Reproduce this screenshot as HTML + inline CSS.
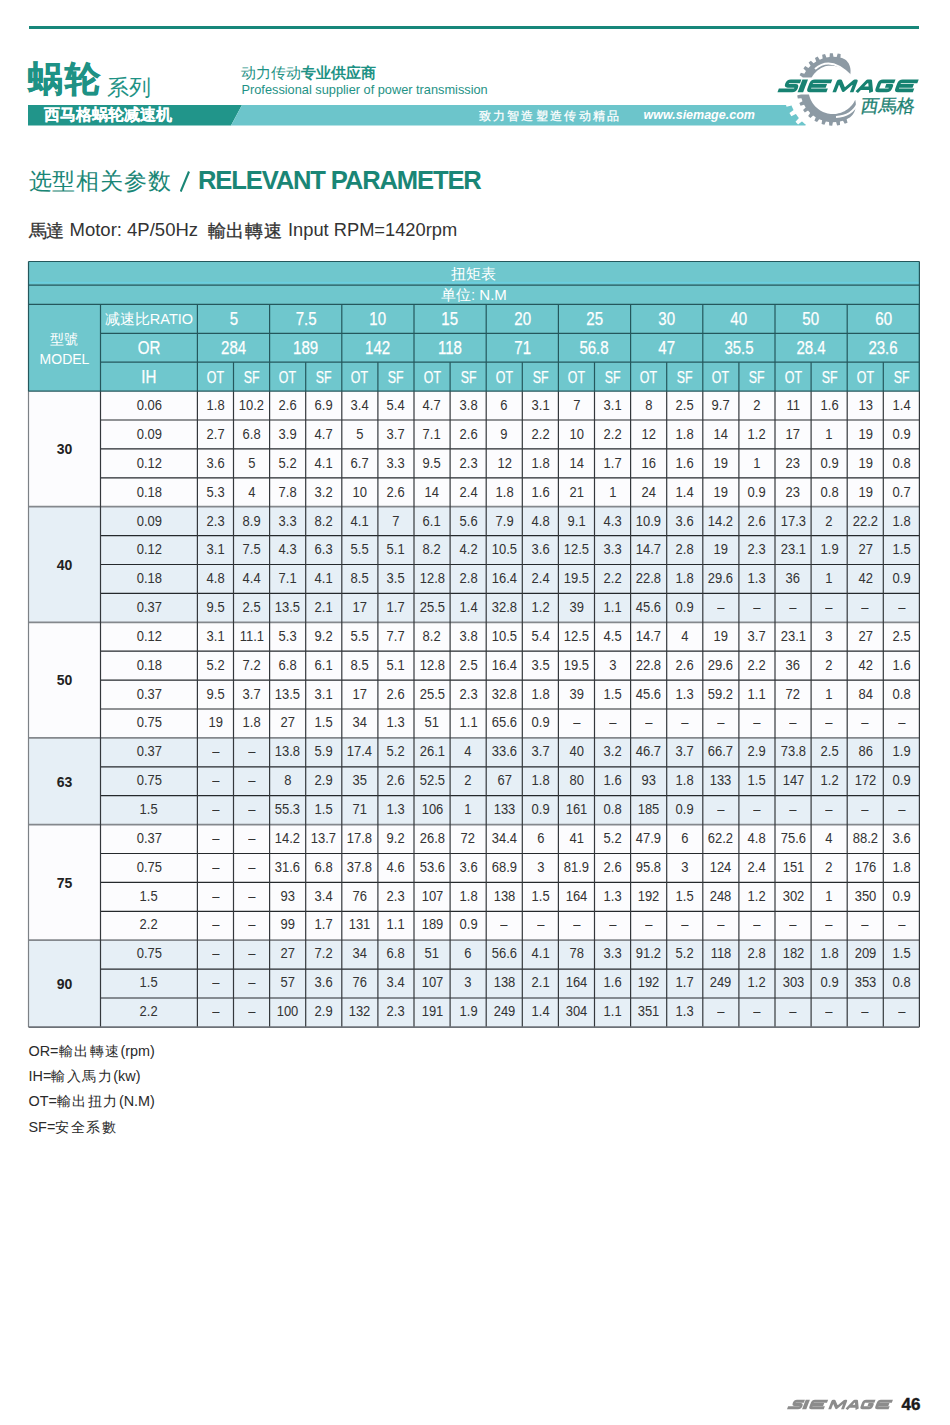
<!DOCTYPE html>
<html><head><meta charset="utf-8">
<style>
html,body{margin:0;padding:0;background:#fff;}
body{width:950px;height:1425px;position:relative;overflow:hidden;font-family:"Liberation Sans",sans-serif;}
.a{position:absolute;white-space:nowrap;}
.c{position:absolute;text-align:center;white-space:nowrap;}
.h1{color:#fff;font-size:15px;}
.hm{color:#fff;font-size:14px;line-height:20px;display:flex;align-items:center;justify-content:center;flex-direction:column;}
.hr{color:#fff;font-size:14.5px;}
.hn{color:#fff;font-size:17.5px;-webkit-text-stroke:0.25px #fff;}
.hs{color:#fff;font-size:16.5px;-webkit-text-stroke:0.25px #fff;}
.d{color:#333333;font-size:13.8px;}
.mb{color:#222;font-size:14px;font-weight:bold;}
</style></head><body>
<div class="a" style="left:28.5px;top:26.3px;width:890px;height:2.5px;background:#17877a;"></div><div class="a" style="left:28.00px;top:61.59px;font-size:34.5px;line-height:34.5px;font-weight:bold;color:#1e9285;letter-spacing:2px;-webkit-text-stroke:0.7px #1e9285">蜗轮</div><div class="a" style="left:107.00px;top:76.87px;font-size:22px;line-height:22px;color:#1e9285">系列</div><div class="a" style="left:241.00px;top:65.72px;font-size:14.5px;line-height:14.5px;color:#1e9285">动力传动<b>专业供应商</b></div><div class="a" style="left:241.50px;top:84.19px;font-size:12.77px;line-height:12.77px;color:#1e9285">Professional supplier of power transmission</div><svg class="a" style="left:0;top:0" width="950" height="140">
<polygon points="28,105 242,105 231,125.5 28,125.5" fill="#21958a"/>
<polygon points="242,105 830,105 830,125.5 231,125.5" fill="#6cc5cb"/>
<polygon points="876.46,87.52 882.48,88.06 882.45,91.81 876.41,92.23 875.86,96.91 881.63,98.73 880.79,102.38 874.81,101.50 873.27,105.95 878.51,108.96 876.91,112.36 871.25,110.21 868.79,114.22 873.26,118.29 870.97,121.26 865.91,117.95 862.64,121.34 866.13,126.28 863.25,128.68 859.02,124.36 855.10,126.97 857.45,132.54 854.12,134.27 850.92,129.14 846.53,130.84 847.63,136.79 844.00,137.76 841.98,132.06 837.33,132.78 837.12,138.83 833.37,139.00 832.62,133.00 827.92,132.70 826.42,138.56 822.72,137.92 823.28,131.90 818.75,130.60 816.03,136.00 812.55,134.58 814.39,128.82 810.25,126.58 806.43,131.26 803.34,129.13 806.37,123.90 802.81,120.82 798.07,124.58 795.52,121.83 799.60,117.37 796.78,113.60 791.35,116.25 789.44,113.01 794.39,109.54 792.45,105.25 786.57,106.67 785.41,103.10 790.99,100.77 790.01,96.16 783.97,96.29 783.59,92.55 789.54,91.48 789.59,86.77 783.65,85.59 784.09,81.86 790.14,82.09 791.19,77.50 785.65,75.07 786.88,71.52 792.73,73.05 794.75,68.79 789.86,65.23 791.82,62.03 797.21,64.78 800.09,61.05 796.09,56.52 798.69,53.82 803.36,57.66 806.98,54.64 804.04,49.36 807.16,47.28 810.90,52.03 815.08,49.86 813.34,44.07 816.84,42.71 819.47,48.16 824.02,46.94 823.57,40.91 827.28,40.33 828.67,46.22 833.38,46.00 834.24,40.02 837.98,40.25 838.08,46.30 842.72,47.10 844.85,41.44 848.45,42.47 847.25,48.40 851.61,50.18 854.90,45.11 858.20,46.89 855.75,52.42 859.63,55.10 863.93,50.85 866.77,53.31 863.19,58.18 866.40,61.63 871.52,58.41 873.76,61.41 869.22,65.40 871.61,69.46 877.30,67.41 878.85,70.83 873.55,73.75 875.01,78.23 881.01,77.45 881.79,81.12 875.99,82.84" fill="#fff"/>
<circle cx="833" cy="89.5" r="44.5" fill="#fff"/>
<polygon points="855.20,99.85 855.56,101.54 855.78,103.28 855.85,105.05 855.74,106.84 855.45,108.62 854.98,110.36 854.31,112.02 853.45,113.59 852.42,115.03 851.21,116.33 849.85,117.44 848.35,118.37 846.64,119.22 847.53,122.77 844.74,123.85 843.01,120.63 839.93,121.46 840.04,125.11 837.08,125.57 836.08,122.05 832.90,122.20 832.22,125.79 829.23,125.60 829.01,121.96 825.87,121.41 824.43,124.77 821.56,123.95 822.13,120.34 819.18,119.13 817.05,122.11 814.42,120.69 815.75,117.28 813.13,115.47 810.41,117.92 808.15,115.96 810.18,112.92 808.01,110.59 804.83,112.40 803.04,110.00 805.68,107.47 804.06,104.72 800.57,105.81 799.34,103.08 802.46,101.18 801.46,98.15 797.82,98.45 797.20,95.53 800.66,94.34 800.34,91.17 796.72,90.68 796.74,87.69 800.38,87.27 800.75,84.11 797.31,82.85 797.98,79.94 801.62,80.31 802.66,77.30 799.58,75.34 800.85,72.64 804.33,73.78 805.99,71.06 803.40,68.48 805.23,66.12 808.38,67.98 810.59,65.69 808.61,62.61 810.91,60.70 813.58,63.19 816.23,61.43 814.96,58.00 817.61,56.62 819.69,59.63 822.66,58.48 822.16,54.86 825.04,54.08 826.42,57.47 829.57,56.98 829.86,53.34 832.84,53.20 833.46,56.80 836.64,57.00 837.70,53.51 840.65,54.01 840.48,57.67 842.01,58.07 843.59,58.66 845.07,59.51 846.40,60.59 847.58,61.89 848.58,63.36 849.38,64.99 849.97,66.73 850.36,68.56 850.55,70.44 850.53,72.32 850.34,74.18 849.98,75.99 849.98,75.99 849.18,74.82 848.30,73.70 847.34,72.64 846.31,71.63 845.20,70.69 844.03,69.81 842.80,69.01 841.51,68.28 840.16,67.64 838.77,67.08 837.34,66.61 835.87,66.23 834.37,65.95 832.84,65.77 831.30,65.68 829.74,65.70 828.18,65.82 826.62,66.04 825.07,66.36 823.57,66.89 822.13,67.54 820.74,68.29 819.39,69.13 818.10,70.05 816.88,71.05 815.72,72.13 814.63,73.29 813.62,74.51 812.69,75.79 811.85,77.13 811.09,78.53 810.43,79.97 809.86,81.45 809.39,82.96 809.02,84.50 808.74,86.06 808.57,87.63 808.50,89.22 808.53,90.80 808.67,92.38 808.91,93.95 809.24,95.49 809.68,97.02 810.22,98.51 810.85,99.96 811.57,101.37 812.38,102.73 813.28,104.04 814.26,105.28 815.32,106.46 816.45,107.57 817.66,108.60 818.92,109.55 820.25,110.42 821.63,111.20 823.05,111.89 824.52,112.49 826.03,112.99 827.56,113.39 829.11,113.69 830.69,113.89 832.27,113.99 833.85,113.99 835.43,113.88 837.00,113.67 838.56,113.36 840.09,112.95 841.59,112.44 843.06,111.84 844.48,111.14 845.85,110.36 847.17,109.48 848.44,108.52 849.63,107.49 850.76,106.37 851.82,105.19 852.79,103.94 853.68,102.63 854.49,101.27 855.20,99.85" fill="#8d9aa4"/>
<path d="M815,69 Q831,55 851.5,76.5" fill="none" stroke="#fff" stroke-width="2.0"/>
<path d="M858,103 Q852,116 836,117" fill="none" stroke="#fff" stroke-width="1.8"/>
<g transform="translate(786.8,79.6) skewX(-21)">
<rect x="-8" y="-2.2" width="145" height="17" fill="#fff"/>
<path transform="translate(0.0,0)" d="M14.6,1.8 H4 Q1.8,1.8 1.8,4 Q1.8,6.3 4,6.3 H10.5 Q12.55,6.3 12.55,8.6 Q12.55,10.799999999999999 10.2,10.799999999999999 H-4.5" fill="none" stroke="#178272" stroke-width="3.6" stroke-linejoin="round"/><rect x="15.6" y="0" width="5.6" height="12.6" fill="#178272"/><path transform="translate(24.0,0)" d="M21.5,1.8 H4 Q1.8,1.8 1.8,4 V8.6 Q1.8,10.799999999999999 4,10.799999999999999 H20.5 M3,6.3 H18" fill="none" stroke="#178272" stroke-width="3.6" stroke-linejoin="round"/><path transform="translate(50.5,0)" d="M1.8,12.6 V1.8 H3.5 L10.5,10.5 L17.5,1.8 H19.2 V12.6" fill="none" stroke="#178272" stroke-width="3.6" stroke-linejoin="round"/><path transform="translate(73.0,0)" d="M1.8,12.6 L8,1.8 H11 L16.2,12.6 M4.8,8.6 H13.5" fill="none" stroke="#178272" stroke-width="3.6" stroke-linejoin="round"/><path transform="translate(92.2,0)" d="M16.5,1.8 H4 Q1.8,1.8 1.8,4 V8.6 Q1.8,10.799999999999999 4,10.799999999999999 H12.5 Q14.7,10.799999999999999 14.7,8.6 V6.3 H9" fill="none" stroke="#178272" stroke-width="3.6" stroke-linejoin="round"/><path transform="translate(111.9,0)" d="M20,1.8 H4 Q1.8,1.8 1.8,4 V8.6 Q1.8,10.799999999999999 4,10.799999999999999 H19 M3,6.3 H17" fill="none" stroke="#178272" stroke-width="3.6" stroke-linejoin="round"/>
</g>
</svg><div class="a" style="left:859.00px;top:97.26px;font-size:18px;line-height:18px;color:#1d8273;-webkit-text-stroke:0.3px #1d8273;transform:skewX(-10deg);transform-origin:0 100%">西馬格</div><div class="a" style="left:44.00px;top:106.79px;font-size:15.6px;line-height:15.6px;font-weight:bold;color:#fff;-webkit-text-stroke:0.15px #fff">西马格蜗轮减速机</div><div class="a" style="left:478.50px;top:109.64px;font-size:12px;line-height:12px;letter-spacing:2.3px;color:#fff;-webkit-text-stroke:0.25px #fff">致力智造塑造传动精品</div><div class="a" style="left:643.50px;top:109.42px;font-size:12.5px;line-height:12.5px;font-weight:bold;font-style:italic;color:#fff">www.siemage.com</div><div class="a" style="left:28.50px;top:170.03px;font-size:23px;line-height:23px;color:#1a8676;letter-spacing:0.9px">选型相关参数</div><div class="a" style="left:180px;top:171px;width:9.5px;height:21px;"><svg width="10" height="21"><line x1="0.7" y1="20.5" x2="9" y2="0.5" stroke="#1a8676" stroke-width="2.1"/></svg></div><div class="a" style="left:198.00px;top:168.32px;font-size:25.6px;line-height:25.6px;font-weight:bold;color:#1a8676;letter-spacing:-1.15px">RELEVANT PARAMETER</div><div class="a" style="left:28.50px;top:222.60px;font-size:17.6px;line-height:17.6px;color:#333;letter-spacing:-0.2px;-webkit-text-stroke:0.3px #333">馬達</div><div class="a" style="left:69.50px;top:220.84px;font-size:18.5px;line-height:18.5px;color:#333">Motor: 4P/50Hz</div><div class="a" style="left:207.50px;top:222.60px;font-size:17.6px;line-height:17.6px;color:#333;letter-spacing:0.8px;-webkit-text-stroke:0.3px #333">輸出轉速</div><div class="a" style="left:288.00px;top:221.01px;font-size:18.3px;line-height:18.3px;color:#333">Input RPM=1420rpm</div><div class="a" style="left:28.50px;top:1038.86px;font-size:14.4px;line-height:25.3px;color:#2a2a2a">OR=<span style="letter-spacing:1.5px">輸出轉速</span>(rpm)<br>IH=<span style="letter-spacing:1.5px">輸入馬力</span>(kw)<br>OT=<span style="letter-spacing:1.5px">輸出扭力</span>(N.M)<br>SF=<span style="letter-spacing:1.5px">安全系數</span></div><svg class="a" style="left:0;top:1390px" width="950" height="30"><g transform="translate(794,9.8) scale(0.75) skewX(-21)"><path transform="translate(0.0,0)" d="M14.6,1.95 H4 Q1.95,1.95 1.95,4 Q1.95,6.3 4,6.3 H10.5 Q12.55,6.3 12.55,8.6 Q12.55,10.65 10.2,10.65 H-4.5" fill="none" stroke="#8c8c8c" stroke-width="3.9" stroke-linejoin="round"/><rect x="15.6" y="0" width="5.6" height="12.6" fill="#8c8c8c"/><path transform="translate(24.0,0)" d="M21.5,1.95 H4 Q1.95,1.95 1.95,4 V8.6 Q1.95,10.65 4,10.65 H20.5 M3,6.3 H18" fill="none" stroke="#8c8c8c" stroke-width="3.9" stroke-linejoin="round"/><path transform="translate(50.5,0)" d="M1.95,12.6 V1.95 H3.5 L10.5,10.5 L17.5,1.95 H19.05 V12.6" fill="none" stroke="#8c8c8c" stroke-width="3.9" stroke-linejoin="round"/><path transform="translate(73.0,0)" d="M1.95,12.6 L8,1.95 H11 L16.05,12.6 M4.8,8.6 H13.5" fill="none" stroke="#8c8c8c" stroke-width="3.9" stroke-linejoin="round"/><path transform="translate(92.2,0)" d="M16.5,1.95 H4 Q1.95,1.95 1.95,4 V8.6 Q1.95,10.65 4,10.65 H12.5 Q14.55,10.65 14.55,8.6 V6.3 H9" fill="none" stroke="#8c8c8c" stroke-width="3.9" stroke-linejoin="round"/><path transform="translate(111.9,0)" d="M20,1.95 H4 Q1.95,1.95 1.95,4 V8.6 Q1.95,10.65 4,10.65 H19 M3,6.3 H17" fill="none" stroke="#8c8c8c" stroke-width="3.9" stroke-linejoin="round"/></g></svg><div class="a" style="left:901.50px;top:1396.11px;font-size:17px;line-height:17px;font-weight:bold;color:#1a1a1a;-webkit-text-stroke:0.4px #1a1a1a">46</div>
<svg class="a" style="left:0;top:0" width="950" height="1100">
<rect x="28.50" y="261.50" width="890.90" height="129.60" fill="#6fc7cd"/><rect x="28.50" y="391.10" width="890.90" height="115.60" fill="#fcfcfe"/><rect x="28.50" y="506.70" width="890.90" height="115.60" fill="#e6eff6"/><rect x="28.50" y="622.30" width="890.90" height="115.60" fill="#fcfcfe"/><rect x="28.50" y="737.90" width="890.90" height="86.70" fill="#e6eff6"/><rect x="28.50" y="824.60" width="890.90" height="115.60" fill="#fcfcfe"/><rect x="28.50" y="940.20" width="890.90" height="86.70" fill="#e6eff6"/><rect x="28.50" y="281.80" width="890.90" height="1.50" fill="#69cee0"/><line x1="100.50" y1="420.00" x2="919.40" y2="420.00" stroke="#25292c" stroke-width="1.2"/><line x1="100.50" y1="448.90" x2="919.40" y2="448.90" stroke="#25292c" stroke-width="1.2"/><line x1="100.50" y1="477.80" x2="919.40" y2="477.80" stroke="#25292c" stroke-width="1.2"/><line x1="28.50" y1="506.70" x2="919.40" y2="506.70" stroke="#84888d" stroke-width="1.7"/><line x1="100.50" y1="535.60" x2="919.40" y2="535.60" stroke="#25292c" stroke-width="1.2"/><line x1="100.50" y1="564.50" x2="919.40" y2="564.50" stroke="#25292c" stroke-width="1.2"/><line x1="100.50" y1="593.40" x2="919.40" y2="593.40" stroke="#25292c" stroke-width="1.2"/><line x1="28.50" y1="622.30" x2="919.40" y2="622.30" stroke="#84888d" stroke-width="1.7"/><line x1="100.50" y1="651.20" x2="919.40" y2="651.20" stroke="#25292c" stroke-width="1.2"/><line x1="100.50" y1="680.10" x2="919.40" y2="680.10" stroke="#25292c" stroke-width="1.2"/><line x1="100.50" y1="709.00" x2="919.40" y2="709.00" stroke="#25292c" stroke-width="1.2"/><line x1="28.50" y1="737.90" x2="919.40" y2="737.90" stroke="#84888d" stroke-width="1.7"/><line x1="100.50" y1="766.80" x2="919.40" y2="766.80" stroke="#25292c" stroke-width="1.2"/><line x1="100.50" y1="795.70" x2="919.40" y2="795.70" stroke="#25292c" stroke-width="1.2"/><line x1="28.50" y1="824.60" x2="919.40" y2="824.60" stroke="#84888d" stroke-width="1.7"/><line x1="100.50" y1="853.50" x2="919.40" y2="853.50" stroke="#25292c" stroke-width="1.2"/><line x1="100.50" y1="882.40" x2="919.40" y2="882.40" stroke="#25292c" stroke-width="1.2"/><line x1="100.50" y1="911.30" x2="919.40" y2="911.30" stroke="#25292c" stroke-width="1.2"/><line x1="28.50" y1="940.20" x2="919.40" y2="940.20" stroke="#84888d" stroke-width="1.7"/><line x1="100.50" y1="969.10" x2="919.40" y2="969.10" stroke="#25292c" stroke-width="1.2"/><line x1="100.50" y1="998.00" x2="919.40" y2="998.00" stroke="#25292c" stroke-width="1.2"/><line x1="100.50" y1="391.10" x2="100.50" y2="1026.90" stroke="#34383c" stroke-width="1.2"/><line x1="197.40" y1="391.10" x2="197.40" y2="1026.90" stroke="#34383c" stroke-width="1.2"/><line x1="233.50" y1="391.10" x2="233.50" y2="1026.90" stroke="#34383c" stroke-width="1.2"/><line x1="269.60" y1="391.10" x2="269.60" y2="1026.90" stroke="#34383c" stroke-width="1.2"/><line x1="305.70" y1="391.10" x2="305.70" y2="1026.90" stroke="#34383c" stroke-width="1.2"/><line x1="341.80" y1="391.10" x2="341.80" y2="1026.90" stroke="#34383c" stroke-width="1.2"/><line x1="377.90" y1="391.10" x2="377.90" y2="1026.90" stroke="#34383c" stroke-width="1.2"/><line x1="414.00" y1="391.10" x2="414.00" y2="1026.90" stroke="#34383c" stroke-width="1.2"/><line x1="450.10" y1="391.10" x2="450.10" y2="1026.90" stroke="#34383c" stroke-width="1.2"/><line x1="486.20" y1="391.10" x2="486.20" y2="1026.90" stroke="#34383c" stroke-width="1.2"/><line x1="522.30" y1="391.10" x2="522.30" y2="1026.90" stroke="#34383c" stroke-width="1.2"/><line x1="558.40" y1="391.10" x2="558.40" y2="1026.90" stroke="#34383c" stroke-width="1.2"/><line x1="594.50" y1="391.10" x2="594.50" y2="1026.90" stroke="#34383c" stroke-width="1.2"/><line x1="630.60" y1="391.10" x2="630.60" y2="1026.90" stroke="#34383c" stroke-width="1.2"/><line x1="666.70" y1="391.10" x2="666.70" y2="1026.90" stroke="#34383c" stroke-width="1.2"/><line x1="702.80" y1="391.10" x2="702.80" y2="1026.90" stroke="#34383c" stroke-width="1.2"/><line x1="738.90" y1="391.10" x2="738.90" y2="1026.90" stroke="#34383c" stroke-width="1.2"/><line x1="775.00" y1="391.10" x2="775.00" y2="1026.90" stroke="#34383c" stroke-width="1.2"/><line x1="811.10" y1="391.10" x2="811.10" y2="1026.90" stroke="#34383c" stroke-width="1.2"/><line x1="847.20" y1="391.10" x2="847.20" y2="1026.90" stroke="#34383c" stroke-width="1.2"/><line x1="883.30" y1="391.10" x2="883.30" y2="1026.90" stroke="#34383c" stroke-width="1.2"/><line x1="919.40" y1="391.10" x2="919.40" y2="1026.90" stroke="#34383c" stroke-width="1.2"/><line x1="28.50" y1="391.10" x2="28.50" y2="1026.90" stroke="#7c8186" stroke-width="1.2"/><line x1="28.50" y1="1027.10" x2="919.40" y2="1027.10" stroke="#6c7177" stroke-width="1.6"/><line x1="28.50" y1="285.20" x2="919.40" y2="285.20" stroke="#24575c" stroke-width="1.2"/><line x1="28.50" y1="304.40" x2="919.40" y2="304.40" stroke="#24575c" stroke-width="1.2"/><line x1="100.50" y1="333.30" x2="919.40" y2="333.30" stroke="#24575c" stroke-width="1.2"/><line x1="100.50" y1="362.20" x2="919.40" y2="362.20" stroke="#24575c" stroke-width="1.2"/><line x1="100.50" y1="304.40" x2="100.50" y2="391.10" stroke="#24575c" stroke-width="1.2"/><line x1="197.40" y1="304.40" x2="197.40" y2="391.10" stroke="#24575c" stroke-width="1.2"/><line x1="269.60" y1="304.40" x2="269.60" y2="391.10" stroke="#24575c" stroke-width="1.2"/><line x1="341.80" y1="304.40" x2="341.80" y2="391.10" stroke="#24575c" stroke-width="1.2"/><line x1="414.00" y1="304.40" x2="414.00" y2="391.10" stroke="#24575c" stroke-width="1.2"/><line x1="486.20" y1="304.40" x2="486.20" y2="391.10" stroke="#24575c" stroke-width="1.2"/><line x1="558.40" y1="304.40" x2="558.40" y2="391.10" stroke="#24575c" stroke-width="1.2"/><line x1="630.60" y1="304.40" x2="630.60" y2="391.10" stroke="#24575c" stroke-width="1.2"/><line x1="702.80" y1="304.40" x2="702.80" y2="391.10" stroke="#24575c" stroke-width="1.2"/><line x1="775.00" y1="304.40" x2="775.00" y2="391.10" stroke="#24575c" stroke-width="1.2"/><line x1="847.20" y1="304.40" x2="847.20" y2="391.10" stroke="#24575c" stroke-width="1.2"/><line x1="919.40" y1="304.40" x2="919.40" y2="391.10" stroke="#24575c" stroke-width="1.2"/><line x1="233.50" y1="362.20" x2="233.50" y2="391.10" stroke="#24575c" stroke-width="1.2"/><line x1="305.70" y1="362.20" x2="305.70" y2="391.10" stroke="#24575c" stroke-width="1.2"/><line x1="377.90" y1="362.20" x2="377.90" y2="391.10" stroke="#24575c" stroke-width="1.2"/><line x1="450.10" y1="362.20" x2="450.10" y2="391.10" stroke="#24575c" stroke-width="1.2"/><line x1="522.30" y1="362.20" x2="522.30" y2="391.10" stroke="#24575c" stroke-width="1.2"/><line x1="594.50" y1="362.20" x2="594.50" y2="391.10" stroke="#24575c" stroke-width="1.2"/><line x1="666.70" y1="362.20" x2="666.70" y2="391.10" stroke="#24575c" stroke-width="1.2"/><line x1="738.90" y1="362.20" x2="738.90" y2="391.10" stroke="#24575c" stroke-width="1.2"/><line x1="811.10" y1="362.20" x2="811.10" y2="391.10" stroke="#24575c" stroke-width="1.2"/><line x1="883.30" y1="362.20" x2="883.30" y2="391.10" stroke="#24575c" stroke-width="1.2"/><line x1="28.50" y1="391.10" x2="919.40" y2="391.10" stroke="#24575c" stroke-width="1.2"/><line x1="28.50" y1="261.50" x2="919.40" y2="261.50" stroke="#24575c" stroke-width="1.2"/><line x1="28.50" y1="261.50" x2="28.50" y2="391.10" stroke="#24575c" stroke-width="1.2"/><line x1="919.40" y1="261.50" x2="919.40" y2="391.10" stroke="#24575c" stroke-width="1.2"/>
</svg>
<div class="c h1" style="left:28.50px;top:261.50px;width:890.90px;height:23.70px;line-height:23.70px">扭矩表</div><div class="c h1" style="left:28.50px;top:285.20px;width:890.90px;height:19.20px;line-height:19.20px">单位: N.M</div><div class="c hm" style="left:28.5px;top:305.40px;width:72.00px;height:86.70px;">型號<br>MODEL</div><div class="c hr" style="left:100.50px;top:305.40px;width:96.90px;height:28.90px;line-height:28.90px">减速比RATIO</div><div class="c hn" style="left:100.50px;top:334.10px;width:96.90px;height:28.90px;line-height:28.90px"><span style="display:inline-block;transform:scaleX(0.86)">OR</span></div><div class="c hn" style="left:100.50px;top:363.00px;width:96.90px;height:28.90px;line-height:28.90px"><span style="display:inline-block;transform:scaleX(0.86)">IH</span></div><div class="c hn" style="left:197.40px;top:305.20px;width:72.20px;height:28.90px;line-height:28.90px"><span style="display:inline-block;transform:scaleX(0.86)">5</span></div><div class="c hn" style="left:197.40px;top:334.10px;width:72.20px;height:28.90px;line-height:28.90px"><span style="display:inline-block;transform:scaleX(0.86)">284</span></div><div class="c hs" style="left:197.40px;top:363.00px;width:36.10px;height:28.90px;line-height:28.90px"><span style="display:inline-block;transform:scaleX(0.75)">OT</span></div><div class="c hs" style="left:233.50px;top:363.00px;width:36.10px;height:28.90px;line-height:28.90px"><span style="display:inline-block;transform:scaleX(0.75)">SF</span></div><div class="c hn" style="left:269.60px;top:305.20px;width:72.20px;height:28.90px;line-height:28.90px"><span style="display:inline-block;transform:scaleX(0.86)">7.5</span></div><div class="c hn" style="left:269.60px;top:334.10px;width:72.20px;height:28.90px;line-height:28.90px"><span style="display:inline-block;transform:scaleX(0.86)">189</span></div><div class="c hs" style="left:269.60px;top:363.00px;width:36.10px;height:28.90px;line-height:28.90px"><span style="display:inline-block;transform:scaleX(0.75)">OT</span></div><div class="c hs" style="left:305.70px;top:363.00px;width:36.10px;height:28.90px;line-height:28.90px"><span style="display:inline-block;transform:scaleX(0.75)">SF</span></div><div class="c hn" style="left:341.80px;top:305.20px;width:72.20px;height:28.90px;line-height:28.90px"><span style="display:inline-block;transform:scaleX(0.86)">10</span></div><div class="c hn" style="left:341.80px;top:334.10px;width:72.20px;height:28.90px;line-height:28.90px"><span style="display:inline-block;transform:scaleX(0.86)">142</span></div><div class="c hs" style="left:341.80px;top:363.00px;width:36.10px;height:28.90px;line-height:28.90px"><span style="display:inline-block;transform:scaleX(0.75)">OT</span></div><div class="c hs" style="left:377.90px;top:363.00px;width:36.10px;height:28.90px;line-height:28.90px"><span style="display:inline-block;transform:scaleX(0.75)">SF</span></div><div class="c hn" style="left:414.00px;top:305.20px;width:72.20px;height:28.90px;line-height:28.90px"><span style="display:inline-block;transform:scaleX(0.86)">15</span></div><div class="c hn" style="left:414.00px;top:334.10px;width:72.20px;height:28.90px;line-height:28.90px"><span style="display:inline-block;transform:scaleX(0.86)">118</span></div><div class="c hs" style="left:414.00px;top:363.00px;width:36.10px;height:28.90px;line-height:28.90px"><span style="display:inline-block;transform:scaleX(0.75)">OT</span></div><div class="c hs" style="left:450.10px;top:363.00px;width:36.10px;height:28.90px;line-height:28.90px"><span style="display:inline-block;transform:scaleX(0.75)">SF</span></div><div class="c hn" style="left:486.20px;top:305.20px;width:72.20px;height:28.90px;line-height:28.90px"><span style="display:inline-block;transform:scaleX(0.86)">20</span></div><div class="c hn" style="left:486.20px;top:334.10px;width:72.20px;height:28.90px;line-height:28.90px"><span style="display:inline-block;transform:scaleX(0.86)">71</span></div><div class="c hs" style="left:486.20px;top:363.00px;width:36.10px;height:28.90px;line-height:28.90px"><span style="display:inline-block;transform:scaleX(0.75)">OT</span></div><div class="c hs" style="left:522.30px;top:363.00px;width:36.10px;height:28.90px;line-height:28.90px"><span style="display:inline-block;transform:scaleX(0.75)">SF</span></div><div class="c hn" style="left:558.40px;top:305.20px;width:72.20px;height:28.90px;line-height:28.90px"><span style="display:inline-block;transform:scaleX(0.86)">25</span></div><div class="c hn" style="left:558.40px;top:334.10px;width:72.20px;height:28.90px;line-height:28.90px"><span style="display:inline-block;transform:scaleX(0.86)">56.8</span></div><div class="c hs" style="left:558.40px;top:363.00px;width:36.10px;height:28.90px;line-height:28.90px"><span style="display:inline-block;transform:scaleX(0.75)">OT</span></div><div class="c hs" style="left:594.50px;top:363.00px;width:36.10px;height:28.90px;line-height:28.90px"><span style="display:inline-block;transform:scaleX(0.75)">SF</span></div><div class="c hn" style="left:630.60px;top:305.20px;width:72.20px;height:28.90px;line-height:28.90px"><span style="display:inline-block;transform:scaleX(0.86)">30</span></div><div class="c hn" style="left:630.60px;top:334.10px;width:72.20px;height:28.90px;line-height:28.90px"><span style="display:inline-block;transform:scaleX(0.86)">47</span></div><div class="c hs" style="left:630.60px;top:363.00px;width:36.10px;height:28.90px;line-height:28.90px"><span style="display:inline-block;transform:scaleX(0.75)">OT</span></div><div class="c hs" style="left:666.70px;top:363.00px;width:36.10px;height:28.90px;line-height:28.90px"><span style="display:inline-block;transform:scaleX(0.75)">SF</span></div><div class="c hn" style="left:702.80px;top:305.20px;width:72.20px;height:28.90px;line-height:28.90px"><span style="display:inline-block;transform:scaleX(0.86)">40</span></div><div class="c hn" style="left:702.80px;top:334.10px;width:72.20px;height:28.90px;line-height:28.90px"><span style="display:inline-block;transform:scaleX(0.86)">35.5</span></div><div class="c hs" style="left:702.80px;top:363.00px;width:36.10px;height:28.90px;line-height:28.90px"><span style="display:inline-block;transform:scaleX(0.75)">OT</span></div><div class="c hs" style="left:738.90px;top:363.00px;width:36.10px;height:28.90px;line-height:28.90px"><span style="display:inline-block;transform:scaleX(0.75)">SF</span></div><div class="c hn" style="left:775.00px;top:305.20px;width:72.20px;height:28.90px;line-height:28.90px"><span style="display:inline-block;transform:scaleX(0.86)">50</span></div><div class="c hn" style="left:775.00px;top:334.10px;width:72.20px;height:28.90px;line-height:28.90px"><span style="display:inline-block;transform:scaleX(0.86)">28.4</span></div><div class="c hs" style="left:775.00px;top:363.00px;width:36.10px;height:28.90px;line-height:28.90px"><span style="display:inline-block;transform:scaleX(0.75)">OT</span></div><div class="c hs" style="left:811.10px;top:363.00px;width:36.10px;height:28.90px;line-height:28.90px"><span style="display:inline-block;transform:scaleX(0.75)">SF</span></div><div class="c hn" style="left:847.20px;top:305.20px;width:72.20px;height:28.90px;line-height:28.90px"><span style="display:inline-block;transform:scaleX(0.86)">60</span></div><div class="c hn" style="left:847.20px;top:334.10px;width:72.20px;height:28.90px;line-height:28.90px"><span style="display:inline-block;transform:scaleX(0.86)">23.6</span></div><div class="c hs" style="left:847.20px;top:363.00px;width:36.10px;height:28.90px;line-height:28.90px"><span style="display:inline-block;transform:scaleX(0.75)">OT</span></div><div class="c hs" style="left:883.30px;top:363.00px;width:36.10px;height:28.90px;line-height:28.90px"><span style="display:inline-block;transform:scaleX(0.75)">SF</span></div><div class="c mb" style="left:28.50px;top:392.10px;width:72.00px;height:115.60px;line-height:115.60px">30</div><div class="c d" style="left:100.50px;top:392.10px;width:96.90px;height:28.90px;line-height:28.90px"><span style="display:inline-block;transform:scaleX(0.94)">0.06</span></div><div class="c d" style="left:197.40px;top:392.10px;width:36.10px;height:28.90px;line-height:28.90px"><span style="display:inline-block;transform:scaleX(0.94)">1.8</span></div><div class="c d" style="left:233.50px;top:392.10px;width:36.10px;height:28.90px;line-height:28.90px"><span style="display:inline-block;transform:scaleX(0.94)">10.2</span></div><div class="c d" style="left:269.60px;top:392.10px;width:36.10px;height:28.90px;line-height:28.90px"><span style="display:inline-block;transform:scaleX(0.94)">2.6</span></div><div class="c d" style="left:305.70px;top:392.10px;width:36.10px;height:28.90px;line-height:28.90px"><span style="display:inline-block;transform:scaleX(0.94)">6.9</span></div><div class="c d" style="left:341.80px;top:392.10px;width:36.10px;height:28.90px;line-height:28.90px"><span style="display:inline-block;transform:scaleX(0.94)">3.4</span></div><div class="c d" style="left:377.90px;top:392.10px;width:36.10px;height:28.90px;line-height:28.90px"><span style="display:inline-block;transform:scaleX(0.94)">5.4</span></div><div class="c d" style="left:414.00px;top:392.10px;width:36.10px;height:28.90px;line-height:28.90px"><span style="display:inline-block;transform:scaleX(0.94)">4.7</span></div><div class="c d" style="left:450.10px;top:392.10px;width:36.10px;height:28.90px;line-height:28.90px"><span style="display:inline-block;transform:scaleX(0.94)">3.8</span></div><div class="c d" style="left:486.20px;top:392.10px;width:36.10px;height:28.90px;line-height:28.90px"><span style="display:inline-block;transform:scaleX(0.94)">6</span></div><div class="c d" style="left:522.30px;top:392.10px;width:36.10px;height:28.90px;line-height:28.90px"><span style="display:inline-block;transform:scaleX(0.94)">3.1</span></div><div class="c d" style="left:558.40px;top:392.10px;width:36.10px;height:28.90px;line-height:28.90px"><span style="display:inline-block;transform:scaleX(0.94)">7</span></div><div class="c d" style="left:594.50px;top:392.10px;width:36.10px;height:28.90px;line-height:28.90px"><span style="display:inline-block;transform:scaleX(0.94)">3.1</span></div><div class="c d" style="left:630.60px;top:392.10px;width:36.10px;height:28.90px;line-height:28.90px"><span style="display:inline-block;transform:scaleX(0.94)">8</span></div><div class="c d" style="left:666.70px;top:392.10px;width:36.10px;height:28.90px;line-height:28.90px"><span style="display:inline-block;transform:scaleX(0.94)">2.5</span></div><div class="c d" style="left:702.80px;top:392.10px;width:36.10px;height:28.90px;line-height:28.90px"><span style="display:inline-block;transform:scaleX(0.94)">9.7</span></div><div class="c d" style="left:738.90px;top:392.10px;width:36.10px;height:28.90px;line-height:28.90px"><span style="display:inline-block;transform:scaleX(0.94)">2</span></div><div class="c d" style="left:775.00px;top:392.10px;width:36.10px;height:28.90px;line-height:28.90px"><span style="display:inline-block;transform:scaleX(0.94)">11</span></div><div class="c d" style="left:811.10px;top:392.10px;width:36.10px;height:28.90px;line-height:28.90px"><span style="display:inline-block;transform:scaleX(0.94)">1.6</span></div><div class="c d" style="left:847.20px;top:392.10px;width:36.10px;height:28.90px;line-height:28.90px"><span style="display:inline-block;transform:scaleX(0.94)">13</span></div><div class="c d" style="left:883.30px;top:392.10px;width:36.10px;height:28.90px;line-height:28.90px"><span style="display:inline-block;transform:scaleX(0.94)">1.4</span></div><div class="c d" style="left:100.50px;top:420.95px;width:96.90px;height:28.90px;line-height:28.90px"><span style="display:inline-block;transform:scaleX(0.94)">0.09</span></div><div class="c d" style="left:197.40px;top:420.95px;width:36.10px;height:28.90px;line-height:28.90px"><span style="display:inline-block;transform:scaleX(0.94)">2.7</span></div><div class="c d" style="left:233.50px;top:420.95px;width:36.10px;height:28.90px;line-height:28.90px"><span style="display:inline-block;transform:scaleX(0.94)">6.8</span></div><div class="c d" style="left:269.60px;top:420.95px;width:36.10px;height:28.90px;line-height:28.90px"><span style="display:inline-block;transform:scaleX(0.94)">3.9</span></div><div class="c d" style="left:305.70px;top:420.95px;width:36.10px;height:28.90px;line-height:28.90px"><span style="display:inline-block;transform:scaleX(0.94)">4.7</span></div><div class="c d" style="left:341.80px;top:420.95px;width:36.10px;height:28.90px;line-height:28.90px"><span style="display:inline-block;transform:scaleX(0.94)">5</span></div><div class="c d" style="left:377.90px;top:420.95px;width:36.10px;height:28.90px;line-height:28.90px"><span style="display:inline-block;transform:scaleX(0.94)">3.7</span></div><div class="c d" style="left:414.00px;top:420.95px;width:36.10px;height:28.90px;line-height:28.90px"><span style="display:inline-block;transform:scaleX(0.94)">7.1</span></div><div class="c d" style="left:450.10px;top:420.95px;width:36.10px;height:28.90px;line-height:28.90px"><span style="display:inline-block;transform:scaleX(0.94)">2.6</span></div><div class="c d" style="left:486.20px;top:420.95px;width:36.10px;height:28.90px;line-height:28.90px"><span style="display:inline-block;transform:scaleX(0.94)">9</span></div><div class="c d" style="left:522.30px;top:420.95px;width:36.10px;height:28.90px;line-height:28.90px"><span style="display:inline-block;transform:scaleX(0.94)">2.2</span></div><div class="c d" style="left:558.40px;top:420.95px;width:36.10px;height:28.90px;line-height:28.90px"><span style="display:inline-block;transform:scaleX(0.94)">10</span></div><div class="c d" style="left:594.50px;top:420.95px;width:36.10px;height:28.90px;line-height:28.90px"><span style="display:inline-block;transform:scaleX(0.94)">2.2</span></div><div class="c d" style="left:630.60px;top:420.95px;width:36.10px;height:28.90px;line-height:28.90px"><span style="display:inline-block;transform:scaleX(0.94)">12</span></div><div class="c d" style="left:666.70px;top:420.95px;width:36.10px;height:28.90px;line-height:28.90px"><span style="display:inline-block;transform:scaleX(0.94)">1.8</span></div><div class="c d" style="left:702.80px;top:420.95px;width:36.10px;height:28.90px;line-height:28.90px"><span style="display:inline-block;transform:scaleX(0.94)">14</span></div><div class="c d" style="left:738.90px;top:420.95px;width:36.10px;height:28.90px;line-height:28.90px"><span style="display:inline-block;transform:scaleX(0.94)">1.2</span></div><div class="c d" style="left:775.00px;top:420.95px;width:36.10px;height:28.90px;line-height:28.90px"><span style="display:inline-block;transform:scaleX(0.94)">17</span></div><div class="c d" style="left:811.10px;top:420.95px;width:36.10px;height:28.90px;line-height:28.90px"><span style="display:inline-block;transform:scaleX(0.94)">1</span></div><div class="c d" style="left:847.20px;top:420.95px;width:36.10px;height:28.90px;line-height:28.90px"><span style="display:inline-block;transform:scaleX(0.94)">19</span></div><div class="c d" style="left:883.30px;top:420.95px;width:36.10px;height:28.90px;line-height:28.90px"><span style="display:inline-block;transform:scaleX(0.94)">0.9</span></div><div class="c d" style="left:100.50px;top:449.80px;width:96.90px;height:28.90px;line-height:28.90px"><span style="display:inline-block;transform:scaleX(0.94)">0.12</span></div><div class="c d" style="left:197.40px;top:449.80px;width:36.10px;height:28.90px;line-height:28.90px"><span style="display:inline-block;transform:scaleX(0.94)">3.6</span></div><div class="c d" style="left:233.50px;top:449.80px;width:36.10px;height:28.90px;line-height:28.90px"><span style="display:inline-block;transform:scaleX(0.94)">5</span></div><div class="c d" style="left:269.60px;top:449.80px;width:36.10px;height:28.90px;line-height:28.90px"><span style="display:inline-block;transform:scaleX(0.94)">5.2</span></div><div class="c d" style="left:305.70px;top:449.80px;width:36.10px;height:28.90px;line-height:28.90px"><span style="display:inline-block;transform:scaleX(0.94)">4.1</span></div><div class="c d" style="left:341.80px;top:449.80px;width:36.10px;height:28.90px;line-height:28.90px"><span style="display:inline-block;transform:scaleX(0.94)">6.7</span></div><div class="c d" style="left:377.90px;top:449.80px;width:36.10px;height:28.90px;line-height:28.90px"><span style="display:inline-block;transform:scaleX(0.94)">3.3</span></div><div class="c d" style="left:414.00px;top:449.80px;width:36.10px;height:28.90px;line-height:28.90px"><span style="display:inline-block;transform:scaleX(0.94)">9.5</span></div><div class="c d" style="left:450.10px;top:449.80px;width:36.10px;height:28.90px;line-height:28.90px"><span style="display:inline-block;transform:scaleX(0.94)">2.3</span></div><div class="c d" style="left:486.20px;top:449.80px;width:36.10px;height:28.90px;line-height:28.90px"><span style="display:inline-block;transform:scaleX(0.94)">12</span></div><div class="c d" style="left:522.30px;top:449.80px;width:36.10px;height:28.90px;line-height:28.90px"><span style="display:inline-block;transform:scaleX(0.94)">1.8</span></div><div class="c d" style="left:558.40px;top:449.80px;width:36.10px;height:28.90px;line-height:28.90px"><span style="display:inline-block;transform:scaleX(0.94)">14</span></div><div class="c d" style="left:594.50px;top:449.80px;width:36.10px;height:28.90px;line-height:28.90px"><span style="display:inline-block;transform:scaleX(0.94)">1.7</span></div><div class="c d" style="left:630.60px;top:449.80px;width:36.10px;height:28.90px;line-height:28.90px"><span style="display:inline-block;transform:scaleX(0.94)">16</span></div><div class="c d" style="left:666.70px;top:449.80px;width:36.10px;height:28.90px;line-height:28.90px"><span style="display:inline-block;transform:scaleX(0.94)">1.6</span></div><div class="c d" style="left:702.80px;top:449.80px;width:36.10px;height:28.90px;line-height:28.90px"><span style="display:inline-block;transform:scaleX(0.94)">19</span></div><div class="c d" style="left:738.90px;top:449.80px;width:36.10px;height:28.90px;line-height:28.90px"><span style="display:inline-block;transform:scaleX(0.94)">1</span></div><div class="c d" style="left:775.00px;top:449.80px;width:36.10px;height:28.90px;line-height:28.90px"><span style="display:inline-block;transform:scaleX(0.94)">23</span></div><div class="c d" style="left:811.10px;top:449.80px;width:36.10px;height:28.90px;line-height:28.90px"><span style="display:inline-block;transform:scaleX(0.94)">0.9</span></div><div class="c d" style="left:847.20px;top:449.80px;width:36.10px;height:28.90px;line-height:28.90px"><span style="display:inline-block;transform:scaleX(0.94)">19</span></div><div class="c d" style="left:883.30px;top:449.80px;width:36.10px;height:28.90px;line-height:28.90px"><span style="display:inline-block;transform:scaleX(0.94)">0.8</span></div><div class="c d" style="left:100.50px;top:478.66px;width:96.90px;height:28.90px;line-height:28.90px"><span style="display:inline-block;transform:scaleX(0.94)">0.18</span></div><div class="c d" style="left:197.40px;top:478.66px;width:36.10px;height:28.90px;line-height:28.90px"><span style="display:inline-block;transform:scaleX(0.94)">5.3</span></div><div class="c d" style="left:233.50px;top:478.66px;width:36.10px;height:28.90px;line-height:28.90px"><span style="display:inline-block;transform:scaleX(0.94)">4</span></div><div class="c d" style="left:269.60px;top:478.66px;width:36.10px;height:28.90px;line-height:28.90px"><span style="display:inline-block;transform:scaleX(0.94)">7.8</span></div><div class="c d" style="left:305.70px;top:478.66px;width:36.10px;height:28.90px;line-height:28.90px"><span style="display:inline-block;transform:scaleX(0.94)">3.2</span></div><div class="c d" style="left:341.80px;top:478.66px;width:36.10px;height:28.90px;line-height:28.90px"><span style="display:inline-block;transform:scaleX(0.94)">10</span></div><div class="c d" style="left:377.90px;top:478.66px;width:36.10px;height:28.90px;line-height:28.90px"><span style="display:inline-block;transform:scaleX(0.94)">2.6</span></div><div class="c d" style="left:414.00px;top:478.66px;width:36.10px;height:28.90px;line-height:28.90px"><span style="display:inline-block;transform:scaleX(0.94)">14</span></div><div class="c d" style="left:450.10px;top:478.66px;width:36.10px;height:28.90px;line-height:28.90px"><span style="display:inline-block;transform:scaleX(0.94)">2.4</span></div><div class="c d" style="left:486.20px;top:478.66px;width:36.10px;height:28.90px;line-height:28.90px"><span style="display:inline-block;transform:scaleX(0.94)">1.8</span></div><div class="c d" style="left:522.30px;top:478.66px;width:36.10px;height:28.90px;line-height:28.90px"><span style="display:inline-block;transform:scaleX(0.94)">1.6</span></div><div class="c d" style="left:558.40px;top:478.66px;width:36.10px;height:28.90px;line-height:28.90px"><span style="display:inline-block;transform:scaleX(0.94)">21</span></div><div class="c d" style="left:594.50px;top:478.66px;width:36.10px;height:28.90px;line-height:28.90px"><span style="display:inline-block;transform:scaleX(0.94)">1</span></div><div class="c d" style="left:630.60px;top:478.66px;width:36.10px;height:28.90px;line-height:28.90px"><span style="display:inline-block;transform:scaleX(0.94)">24</span></div><div class="c d" style="left:666.70px;top:478.66px;width:36.10px;height:28.90px;line-height:28.90px"><span style="display:inline-block;transform:scaleX(0.94)">1.4</span></div><div class="c d" style="left:702.80px;top:478.66px;width:36.10px;height:28.90px;line-height:28.90px"><span style="display:inline-block;transform:scaleX(0.94)">19</span></div><div class="c d" style="left:738.90px;top:478.66px;width:36.10px;height:28.90px;line-height:28.90px"><span style="display:inline-block;transform:scaleX(0.94)">0.9</span></div><div class="c d" style="left:775.00px;top:478.66px;width:36.10px;height:28.90px;line-height:28.90px"><span style="display:inline-block;transform:scaleX(0.94)">23</span></div><div class="c d" style="left:811.10px;top:478.66px;width:36.10px;height:28.90px;line-height:28.90px"><span style="display:inline-block;transform:scaleX(0.94)">0.8</span></div><div class="c d" style="left:847.20px;top:478.66px;width:36.10px;height:28.90px;line-height:28.90px"><span style="display:inline-block;transform:scaleX(0.94)">19</span></div><div class="c d" style="left:883.30px;top:478.66px;width:36.10px;height:28.90px;line-height:28.90px"><span style="display:inline-block;transform:scaleX(0.94)">0.7</span></div><div class="c mb" style="left:28.50px;top:507.70px;width:72.00px;height:115.60px;line-height:115.60px">40</div><div class="c d" style="left:100.50px;top:507.51px;width:96.90px;height:28.90px;line-height:28.90px"><span style="display:inline-block;transform:scaleX(0.94)">0.09</span></div><div class="c d" style="left:197.40px;top:507.51px;width:36.10px;height:28.90px;line-height:28.90px"><span style="display:inline-block;transform:scaleX(0.94)">2.3</span></div><div class="c d" style="left:233.50px;top:507.51px;width:36.10px;height:28.90px;line-height:28.90px"><span style="display:inline-block;transform:scaleX(0.94)">8.9</span></div><div class="c d" style="left:269.60px;top:507.51px;width:36.10px;height:28.90px;line-height:28.90px"><span style="display:inline-block;transform:scaleX(0.94)">3.3</span></div><div class="c d" style="left:305.70px;top:507.51px;width:36.10px;height:28.90px;line-height:28.90px"><span style="display:inline-block;transform:scaleX(0.94)">8.2</span></div><div class="c d" style="left:341.80px;top:507.51px;width:36.10px;height:28.90px;line-height:28.90px"><span style="display:inline-block;transform:scaleX(0.94)">4.1</span></div><div class="c d" style="left:377.90px;top:507.51px;width:36.10px;height:28.90px;line-height:28.90px"><span style="display:inline-block;transform:scaleX(0.94)">7</span></div><div class="c d" style="left:414.00px;top:507.51px;width:36.10px;height:28.90px;line-height:28.90px"><span style="display:inline-block;transform:scaleX(0.94)">6.1</span></div><div class="c d" style="left:450.10px;top:507.51px;width:36.10px;height:28.90px;line-height:28.90px"><span style="display:inline-block;transform:scaleX(0.94)">5.6</span></div><div class="c d" style="left:486.20px;top:507.51px;width:36.10px;height:28.90px;line-height:28.90px"><span style="display:inline-block;transform:scaleX(0.94)">7.9</span></div><div class="c d" style="left:522.30px;top:507.51px;width:36.10px;height:28.90px;line-height:28.90px"><span style="display:inline-block;transform:scaleX(0.94)">4.8</span></div><div class="c d" style="left:558.40px;top:507.51px;width:36.10px;height:28.90px;line-height:28.90px"><span style="display:inline-block;transform:scaleX(0.94)">9.1</span></div><div class="c d" style="left:594.50px;top:507.51px;width:36.10px;height:28.90px;line-height:28.90px"><span style="display:inline-block;transform:scaleX(0.94)">4.3</span></div><div class="c d" style="left:630.60px;top:507.51px;width:36.10px;height:28.90px;line-height:28.90px"><span style="display:inline-block;transform:scaleX(0.94)">10.9</span></div><div class="c d" style="left:666.70px;top:507.51px;width:36.10px;height:28.90px;line-height:28.90px"><span style="display:inline-block;transform:scaleX(0.94)">3.6</span></div><div class="c d" style="left:702.80px;top:507.51px;width:36.10px;height:28.90px;line-height:28.90px"><span style="display:inline-block;transform:scaleX(0.94)">14.2</span></div><div class="c d" style="left:738.90px;top:507.51px;width:36.10px;height:28.90px;line-height:28.90px"><span style="display:inline-block;transform:scaleX(0.94)">2.6</span></div><div class="c d" style="left:775.00px;top:507.51px;width:36.10px;height:28.90px;line-height:28.90px"><span style="display:inline-block;transform:scaleX(0.94)">17.3</span></div><div class="c d" style="left:811.10px;top:507.51px;width:36.10px;height:28.90px;line-height:28.90px"><span style="display:inline-block;transform:scaleX(0.94)">2</span></div><div class="c d" style="left:847.20px;top:507.51px;width:36.10px;height:28.90px;line-height:28.90px"><span style="display:inline-block;transform:scaleX(0.94)">22.2</span></div><div class="c d" style="left:883.30px;top:507.51px;width:36.10px;height:28.90px;line-height:28.90px"><span style="display:inline-block;transform:scaleX(0.94)">1.8</span></div><div class="c d" style="left:100.50px;top:536.36px;width:96.90px;height:28.90px;line-height:28.90px"><span style="display:inline-block;transform:scaleX(0.94)">0.12</span></div><div class="c d" style="left:197.40px;top:536.36px;width:36.10px;height:28.90px;line-height:28.90px"><span style="display:inline-block;transform:scaleX(0.94)">3.1</span></div><div class="c d" style="left:233.50px;top:536.36px;width:36.10px;height:28.90px;line-height:28.90px"><span style="display:inline-block;transform:scaleX(0.94)">7.5</span></div><div class="c d" style="left:269.60px;top:536.36px;width:36.10px;height:28.90px;line-height:28.90px"><span style="display:inline-block;transform:scaleX(0.94)">4.3</span></div><div class="c d" style="left:305.70px;top:536.36px;width:36.10px;height:28.90px;line-height:28.90px"><span style="display:inline-block;transform:scaleX(0.94)">6.3</span></div><div class="c d" style="left:341.80px;top:536.36px;width:36.10px;height:28.90px;line-height:28.90px"><span style="display:inline-block;transform:scaleX(0.94)">5.5</span></div><div class="c d" style="left:377.90px;top:536.36px;width:36.10px;height:28.90px;line-height:28.90px"><span style="display:inline-block;transform:scaleX(0.94)">5.1</span></div><div class="c d" style="left:414.00px;top:536.36px;width:36.10px;height:28.90px;line-height:28.90px"><span style="display:inline-block;transform:scaleX(0.94)">8.2</span></div><div class="c d" style="left:450.10px;top:536.36px;width:36.10px;height:28.90px;line-height:28.90px"><span style="display:inline-block;transform:scaleX(0.94)">4.2</span></div><div class="c d" style="left:486.20px;top:536.36px;width:36.10px;height:28.90px;line-height:28.90px"><span style="display:inline-block;transform:scaleX(0.94)">10.5</span></div><div class="c d" style="left:522.30px;top:536.36px;width:36.10px;height:28.90px;line-height:28.90px"><span style="display:inline-block;transform:scaleX(0.94)">3.6</span></div><div class="c d" style="left:558.40px;top:536.36px;width:36.10px;height:28.90px;line-height:28.90px"><span style="display:inline-block;transform:scaleX(0.94)">12.5</span></div><div class="c d" style="left:594.50px;top:536.36px;width:36.10px;height:28.90px;line-height:28.90px"><span style="display:inline-block;transform:scaleX(0.94)">3.3</span></div><div class="c d" style="left:630.60px;top:536.36px;width:36.10px;height:28.90px;line-height:28.90px"><span style="display:inline-block;transform:scaleX(0.94)">14.7</span></div><div class="c d" style="left:666.70px;top:536.36px;width:36.10px;height:28.90px;line-height:28.90px"><span style="display:inline-block;transform:scaleX(0.94)">2.8</span></div><div class="c d" style="left:702.80px;top:536.36px;width:36.10px;height:28.90px;line-height:28.90px"><span style="display:inline-block;transform:scaleX(0.94)">19</span></div><div class="c d" style="left:738.90px;top:536.36px;width:36.10px;height:28.90px;line-height:28.90px"><span style="display:inline-block;transform:scaleX(0.94)">2.3</span></div><div class="c d" style="left:775.00px;top:536.36px;width:36.10px;height:28.90px;line-height:28.90px"><span style="display:inline-block;transform:scaleX(0.94)">23.1</span></div><div class="c d" style="left:811.10px;top:536.36px;width:36.10px;height:28.90px;line-height:28.90px"><span style="display:inline-block;transform:scaleX(0.94)">1.9</span></div><div class="c d" style="left:847.20px;top:536.36px;width:36.10px;height:28.90px;line-height:28.90px"><span style="display:inline-block;transform:scaleX(0.94)">27</span></div><div class="c d" style="left:883.30px;top:536.36px;width:36.10px;height:28.90px;line-height:28.90px"><span style="display:inline-block;transform:scaleX(0.94)">1.5</span></div><div class="c d" style="left:100.50px;top:565.21px;width:96.90px;height:28.90px;line-height:28.90px"><span style="display:inline-block;transform:scaleX(0.94)">0.18</span></div><div class="c d" style="left:197.40px;top:565.21px;width:36.10px;height:28.90px;line-height:28.90px"><span style="display:inline-block;transform:scaleX(0.94)">4.8</span></div><div class="c d" style="left:233.50px;top:565.21px;width:36.10px;height:28.90px;line-height:28.90px"><span style="display:inline-block;transform:scaleX(0.94)">4.4</span></div><div class="c d" style="left:269.60px;top:565.21px;width:36.10px;height:28.90px;line-height:28.90px"><span style="display:inline-block;transform:scaleX(0.94)">7.1</span></div><div class="c d" style="left:305.70px;top:565.21px;width:36.10px;height:28.90px;line-height:28.90px"><span style="display:inline-block;transform:scaleX(0.94)">4.1</span></div><div class="c d" style="left:341.80px;top:565.21px;width:36.10px;height:28.90px;line-height:28.90px"><span style="display:inline-block;transform:scaleX(0.94)">8.5</span></div><div class="c d" style="left:377.90px;top:565.21px;width:36.10px;height:28.90px;line-height:28.90px"><span style="display:inline-block;transform:scaleX(0.94)">3.5</span></div><div class="c d" style="left:414.00px;top:565.21px;width:36.10px;height:28.90px;line-height:28.90px"><span style="display:inline-block;transform:scaleX(0.94)">12.8</span></div><div class="c d" style="left:450.10px;top:565.21px;width:36.10px;height:28.90px;line-height:28.90px"><span style="display:inline-block;transform:scaleX(0.94)">2.8</span></div><div class="c d" style="left:486.20px;top:565.21px;width:36.10px;height:28.90px;line-height:28.90px"><span style="display:inline-block;transform:scaleX(0.94)">16.4</span></div><div class="c d" style="left:522.30px;top:565.21px;width:36.10px;height:28.90px;line-height:28.90px"><span style="display:inline-block;transform:scaleX(0.94)">2.4</span></div><div class="c d" style="left:558.40px;top:565.21px;width:36.10px;height:28.90px;line-height:28.90px"><span style="display:inline-block;transform:scaleX(0.94)">19.5</span></div><div class="c d" style="left:594.50px;top:565.21px;width:36.10px;height:28.90px;line-height:28.90px"><span style="display:inline-block;transform:scaleX(0.94)">2.2</span></div><div class="c d" style="left:630.60px;top:565.21px;width:36.10px;height:28.90px;line-height:28.90px"><span style="display:inline-block;transform:scaleX(0.94)">22.8</span></div><div class="c d" style="left:666.70px;top:565.21px;width:36.10px;height:28.90px;line-height:28.90px"><span style="display:inline-block;transform:scaleX(0.94)">1.8</span></div><div class="c d" style="left:702.80px;top:565.21px;width:36.10px;height:28.90px;line-height:28.90px"><span style="display:inline-block;transform:scaleX(0.94)">29.6</span></div><div class="c d" style="left:738.90px;top:565.21px;width:36.10px;height:28.90px;line-height:28.90px"><span style="display:inline-block;transform:scaleX(0.94)">1.3</span></div><div class="c d" style="left:775.00px;top:565.21px;width:36.10px;height:28.90px;line-height:28.90px"><span style="display:inline-block;transform:scaleX(0.94)">36</span></div><div class="c d" style="left:811.10px;top:565.21px;width:36.10px;height:28.90px;line-height:28.90px"><span style="display:inline-block;transform:scaleX(0.94)">1</span></div><div class="c d" style="left:847.20px;top:565.21px;width:36.10px;height:28.90px;line-height:28.90px"><span style="display:inline-block;transform:scaleX(0.94)">42</span></div><div class="c d" style="left:883.30px;top:565.21px;width:36.10px;height:28.90px;line-height:28.90px"><span style="display:inline-block;transform:scaleX(0.94)">0.9</span></div><div class="c d" style="left:100.50px;top:594.07px;width:96.90px;height:28.90px;line-height:28.90px"><span style="display:inline-block;transform:scaleX(0.94)">0.37</span></div><div class="c d" style="left:197.40px;top:594.07px;width:36.10px;height:28.90px;line-height:28.90px"><span style="display:inline-block;transform:scaleX(0.94)">9.5</span></div><div class="c d" style="left:233.50px;top:594.07px;width:36.10px;height:28.90px;line-height:28.90px"><span style="display:inline-block;transform:scaleX(0.94)">2.5</span></div><div class="c d" style="left:269.60px;top:594.07px;width:36.10px;height:28.90px;line-height:28.90px"><span style="display:inline-block;transform:scaleX(0.94)">13.5</span></div><div class="c d" style="left:305.70px;top:594.07px;width:36.10px;height:28.90px;line-height:28.90px"><span style="display:inline-block;transform:scaleX(0.94)">2.1</span></div><div class="c d" style="left:341.80px;top:594.07px;width:36.10px;height:28.90px;line-height:28.90px"><span style="display:inline-block;transform:scaleX(0.94)">17</span></div><div class="c d" style="left:377.90px;top:594.07px;width:36.10px;height:28.90px;line-height:28.90px"><span style="display:inline-block;transform:scaleX(0.94)">1.7</span></div><div class="c d" style="left:414.00px;top:594.07px;width:36.10px;height:28.90px;line-height:28.90px"><span style="display:inline-block;transform:scaleX(0.94)">25.5</span></div><div class="c d" style="left:450.10px;top:594.07px;width:36.10px;height:28.90px;line-height:28.90px"><span style="display:inline-block;transform:scaleX(0.94)">1.4</span></div><div class="c d" style="left:486.20px;top:594.07px;width:36.10px;height:28.90px;line-height:28.90px"><span style="display:inline-block;transform:scaleX(0.94)">32.8</span></div><div class="c d" style="left:522.30px;top:594.07px;width:36.10px;height:28.90px;line-height:28.90px"><span style="display:inline-block;transform:scaleX(0.94)">1.2</span></div><div class="c d" style="left:558.40px;top:594.07px;width:36.10px;height:28.90px;line-height:28.90px"><span style="display:inline-block;transform:scaleX(0.94)">39</span></div><div class="c d" style="left:594.50px;top:594.07px;width:36.10px;height:28.90px;line-height:28.90px"><span style="display:inline-block;transform:scaleX(0.94)">1.1</span></div><div class="c d" style="left:630.60px;top:594.07px;width:36.10px;height:28.90px;line-height:28.90px"><span style="display:inline-block;transform:scaleX(0.94)">45.6</span></div><div class="c d" style="left:666.70px;top:594.07px;width:36.10px;height:28.90px;line-height:28.90px"><span style="display:inline-block;transform:scaleX(0.94)">0.9</span></div><div class="c d" style="left:702.80px;top:594.07px;width:36.10px;height:28.90px;line-height:28.90px"><span style="display:inline-block;transform:scaleX(0.94)">–</span></div><div class="c d" style="left:738.90px;top:594.07px;width:36.10px;height:28.90px;line-height:28.90px"><span style="display:inline-block;transform:scaleX(0.94)">–</span></div><div class="c d" style="left:775.00px;top:594.07px;width:36.10px;height:28.90px;line-height:28.90px"><span style="display:inline-block;transform:scaleX(0.94)">–</span></div><div class="c d" style="left:811.10px;top:594.07px;width:36.10px;height:28.90px;line-height:28.90px"><span style="display:inline-block;transform:scaleX(0.94)">–</span></div><div class="c d" style="left:847.20px;top:594.07px;width:36.10px;height:28.90px;line-height:28.90px"><span style="display:inline-block;transform:scaleX(0.94)">–</span></div><div class="c d" style="left:883.30px;top:594.07px;width:36.10px;height:28.90px;line-height:28.90px"><span style="display:inline-block;transform:scaleX(0.94)">–</span></div><div class="c mb" style="left:28.50px;top:623.30px;width:72.00px;height:115.60px;line-height:115.60px">50</div><div class="c d" style="left:100.50px;top:622.92px;width:96.90px;height:28.90px;line-height:28.90px"><span style="display:inline-block;transform:scaleX(0.94)">0.12</span></div><div class="c d" style="left:197.40px;top:622.92px;width:36.10px;height:28.90px;line-height:28.90px"><span style="display:inline-block;transform:scaleX(0.94)">3.1</span></div><div class="c d" style="left:233.50px;top:622.92px;width:36.10px;height:28.90px;line-height:28.90px"><span style="display:inline-block;transform:scaleX(0.94)">11.1</span></div><div class="c d" style="left:269.60px;top:622.92px;width:36.10px;height:28.90px;line-height:28.90px"><span style="display:inline-block;transform:scaleX(0.94)">5.3</span></div><div class="c d" style="left:305.70px;top:622.92px;width:36.10px;height:28.90px;line-height:28.90px"><span style="display:inline-block;transform:scaleX(0.94)">9.2</span></div><div class="c d" style="left:341.80px;top:622.92px;width:36.10px;height:28.90px;line-height:28.90px"><span style="display:inline-block;transform:scaleX(0.94)">5.5</span></div><div class="c d" style="left:377.90px;top:622.92px;width:36.10px;height:28.90px;line-height:28.90px"><span style="display:inline-block;transform:scaleX(0.94)">7.7</span></div><div class="c d" style="left:414.00px;top:622.92px;width:36.10px;height:28.90px;line-height:28.90px"><span style="display:inline-block;transform:scaleX(0.94)">8.2</span></div><div class="c d" style="left:450.10px;top:622.92px;width:36.10px;height:28.90px;line-height:28.90px"><span style="display:inline-block;transform:scaleX(0.94)">3.8</span></div><div class="c d" style="left:486.20px;top:622.92px;width:36.10px;height:28.90px;line-height:28.90px"><span style="display:inline-block;transform:scaleX(0.94)">10.5</span></div><div class="c d" style="left:522.30px;top:622.92px;width:36.10px;height:28.90px;line-height:28.90px"><span style="display:inline-block;transform:scaleX(0.94)">5.4</span></div><div class="c d" style="left:558.40px;top:622.92px;width:36.10px;height:28.90px;line-height:28.90px"><span style="display:inline-block;transform:scaleX(0.94)">12.5</span></div><div class="c d" style="left:594.50px;top:622.92px;width:36.10px;height:28.90px;line-height:28.90px"><span style="display:inline-block;transform:scaleX(0.94)">4.5</span></div><div class="c d" style="left:630.60px;top:622.92px;width:36.10px;height:28.90px;line-height:28.90px"><span style="display:inline-block;transform:scaleX(0.94)">14.7</span></div><div class="c d" style="left:666.70px;top:622.92px;width:36.10px;height:28.90px;line-height:28.90px"><span style="display:inline-block;transform:scaleX(0.94)">4</span></div><div class="c d" style="left:702.80px;top:622.92px;width:36.10px;height:28.90px;line-height:28.90px"><span style="display:inline-block;transform:scaleX(0.94)">19</span></div><div class="c d" style="left:738.90px;top:622.92px;width:36.10px;height:28.90px;line-height:28.90px"><span style="display:inline-block;transform:scaleX(0.94)">3.7</span></div><div class="c d" style="left:775.00px;top:622.92px;width:36.10px;height:28.90px;line-height:28.90px"><span style="display:inline-block;transform:scaleX(0.94)">23.1</span></div><div class="c d" style="left:811.10px;top:622.92px;width:36.10px;height:28.90px;line-height:28.90px"><span style="display:inline-block;transform:scaleX(0.94)">3</span></div><div class="c d" style="left:847.20px;top:622.92px;width:36.10px;height:28.90px;line-height:28.90px"><span style="display:inline-block;transform:scaleX(0.94)">27</span></div><div class="c d" style="left:883.30px;top:622.92px;width:36.10px;height:28.90px;line-height:28.90px"><span style="display:inline-block;transform:scaleX(0.94)">2.5</span></div><div class="c d" style="left:100.50px;top:651.77px;width:96.90px;height:28.90px;line-height:28.90px"><span style="display:inline-block;transform:scaleX(0.94)">0.18</span></div><div class="c d" style="left:197.40px;top:651.77px;width:36.10px;height:28.90px;line-height:28.90px"><span style="display:inline-block;transform:scaleX(0.94)">5.2</span></div><div class="c d" style="left:233.50px;top:651.77px;width:36.10px;height:28.90px;line-height:28.90px"><span style="display:inline-block;transform:scaleX(0.94)">7.2</span></div><div class="c d" style="left:269.60px;top:651.77px;width:36.10px;height:28.90px;line-height:28.90px"><span style="display:inline-block;transform:scaleX(0.94)">6.8</span></div><div class="c d" style="left:305.70px;top:651.77px;width:36.10px;height:28.90px;line-height:28.90px"><span style="display:inline-block;transform:scaleX(0.94)">6.1</span></div><div class="c d" style="left:341.80px;top:651.77px;width:36.10px;height:28.90px;line-height:28.90px"><span style="display:inline-block;transform:scaleX(0.94)">8.5</span></div><div class="c d" style="left:377.90px;top:651.77px;width:36.10px;height:28.90px;line-height:28.90px"><span style="display:inline-block;transform:scaleX(0.94)">5.1</span></div><div class="c d" style="left:414.00px;top:651.77px;width:36.10px;height:28.90px;line-height:28.90px"><span style="display:inline-block;transform:scaleX(0.94)">12.8</span></div><div class="c d" style="left:450.10px;top:651.77px;width:36.10px;height:28.90px;line-height:28.90px"><span style="display:inline-block;transform:scaleX(0.94)">2.5</span></div><div class="c d" style="left:486.20px;top:651.77px;width:36.10px;height:28.90px;line-height:28.90px"><span style="display:inline-block;transform:scaleX(0.94)">16.4</span></div><div class="c d" style="left:522.30px;top:651.77px;width:36.10px;height:28.90px;line-height:28.90px"><span style="display:inline-block;transform:scaleX(0.94)">3.5</span></div><div class="c d" style="left:558.40px;top:651.77px;width:36.10px;height:28.90px;line-height:28.90px"><span style="display:inline-block;transform:scaleX(0.94)">19.5</span></div><div class="c d" style="left:594.50px;top:651.77px;width:36.10px;height:28.90px;line-height:28.90px"><span style="display:inline-block;transform:scaleX(0.94)">3</span></div><div class="c d" style="left:630.60px;top:651.77px;width:36.10px;height:28.90px;line-height:28.90px"><span style="display:inline-block;transform:scaleX(0.94)">22.8</span></div><div class="c d" style="left:666.70px;top:651.77px;width:36.10px;height:28.90px;line-height:28.90px"><span style="display:inline-block;transform:scaleX(0.94)">2.6</span></div><div class="c d" style="left:702.80px;top:651.77px;width:36.10px;height:28.90px;line-height:28.90px"><span style="display:inline-block;transform:scaleX(0.94)">29.6</span></div><div class="c d" style="left:738.90px;top:651.77px;width:36.10px;height:28.90px;line-height:28.90px"><span style="display:inline-block;transform:scaleX(0.94)">2.2</span></div><div class="c d" style="left:775.00px;top:651.77px;width:36.10px;height:28.90px;line-height:28.90px"><span style="display:inline-block;transform:scaleX(0.94)">36</span></div><div class="c d" style="left:811.10px;top:651.77px;width:36.10px;height:28.90px;line-height:28.90px"><span style="display:inline-block;transform:scaleX(0.94)">2</span></div><div class="c d" style="left:847.20px;top:651.77px;width:36.10px;height:28.90px;line-height:28.90px"><span style="display:inline-block;transform:scaleX(0.94)">42</span></div><div class="c d" style="left:883.30px;top:651.77px;width:36.10px;height:28.90px;line-height:28.90px"><span style="display:inline-block;transform:scaleX(0.94)">1.6</span></div><div class="c d" style="left:100.50px;top:680.62px;width:96.90px;height:28.90px;line-height:28.90px"><span style="display:inline-block;transform:scaleX(0.94)">0.37</span></div><div class="c d" style="left:197.40px;top:680.62px;width:36.10px;height:28.90px;line-height:28.90px"><span style="display:inline-block;transform:scaleX(0.94)">9.5</span></div><div class="c d" style="left:233.50px;top:680.62px;width:36.10px;height:28.90px;line-height:28.90px"><span style="display:inline-block;transform:scaleX(0.94)">3.7</span></div><div class="c d" style="left:269.60px;top:680.62px;width:36.10px;height:28.90px;line-height:28.90px"><span style="display:inline-block;transform:scaleX(0.94)">13.5</span></div><div class="c d" style="left:305.70px;top:680.62px;width:36.10px;height:28.90px;line-height:28.90px"><span style="display:inline-block;transform:scaleX(0.94)">3.1</span></div><div class="c d" style="left:341.80px;top:680.62px;width:36.10px;height:28.90px;line-height:28.90px"><span style="display:inline-block;transform:scaleX(0.94)">17</span></div><div class="c d" style="left:377.90px;top:680.62px;width:36.10px;height:28.90px;line-height:28.90px"><span style="display:inline-block;transform:scaleX(0.94)">2.6</span></div><div class="c d" style="left:414.00px;top:680.62px;width:36.10px;height:28.90px;line-height:28.90px"><span style="display:inline-block;transform:scaleX(0.94)">25.5</span></div><div class="c d" style="left:450.10px;top:680.62px;width:36.10px;height:28.90px;line-height:28.90px"><span style="display:inline-block;transform:scaleX(0.94)">2.3</span></div><div class="c d" style="left:486.20px;top:680.62px;width:36.10px;height:28.90px;line-height:28.90px"><span style="display:inline-block;transform:scaleX(0.94)">32.8</span></div><div class="c d" style="left:522.30px;top:680.62px;width:36.10px;height:28.90px;line-height:28.90px"><span style="display:inline-block;transform:scaleX(0.94)">1.8</span></div><div class="c d" style="left:558.40px;top:680.62px;width:36.10px;height:28.90px;line-height:28.90px"><span style="display:inline-block;transform:scaleX(0.94)">39</span></div><div class="c d" style="left:594.50px;top:680.62px;width:36.10px;height:28.90px;line-height:28.90px"><span style="display:inline-block;transform:scaleX(0.94)">1.5</span></div><div class="c d" style="left:630.60px;top:680.62px;width:36.10px;height:28.90px;line-height:28.90px"><span style="display:inline-block;transform:scaleX(0.94)">45.6</span></div><div class="c d" style="left:666.70px;top:680.62px;width:36.10px;height:28.90px;line-height:28.90px"><span style="display:inline-block;transform:scaleX(0.94)">1.3</span></div><div class="c d" style="left:702.80px;top:680.62px;width:36.10px;height:28.90px;line-height:28.90px"><span style="display:inline-block;transform:scaleX(0.94)">59.2</span></div><div class="c d" style="left:738.90px;top:680.62px;width:36.10px;height:28.90px;line-height:28.90px"><span style="display:inline-block;transform:scaleX(0.94)">1.1</span></div><div class="c d" style="left:775.00px;top:680.62px;width:36.10px;height:28.90px;line-height:28.90px"><span style="display:inline-block;transform:scaleX(0.94)">72</span></div><div class="c d" style="left:811.10px;top:680.62px;width:36.10px;height:28.90px;line-height:28.90px"><span style="display:inline-block;transform:scaleX(0.94)">1</span></div><div class="c d" style="left:847.20px;top:680.62px;width:36.10px;height:28.90px;line-height:28.90px"><span style="display:inline-block;transform:scaleX(0.94)">84</span></div><div class="c d" style="left:883.30px;top:680.62px;width:36.10px;height:28.90px;line-height:28.90px"><span style="display:inline-block;transform:scaleX(0.94)">0.8</span></div><div class="c d" style="left:100.50px;top:709.48px;width:96.90px;height:28.90px;line-height:28.90px"><span style="display:inline-block;transform:scaleX(0.94)">0.75</span></div><div class="c d" style="left:197.40px;top:709.48px;width:36.10px;height:28.90px;line-height:28.90px"><span style="display:inline-block;transform:scaleX(0.94)">19</span></div><div class="c d" style="left:233.50px;top:709.48px;width:36.10px;height:28.90px;line-height:28.90px"><span style="display:inline-block;transform:scaleX(0.94)">1.8</span></div><div class="c d" style="left:269.60px;top:709.48px;width:36.10px;height:28.90px;line-height:28.90px"><span style="display:inline-block;transform:scaleX(0.94)">27</span></div><div class="c d" style="left:305.70px;top:709.48px;width:36.10px;height:28.90px;line-height:28.90px"><span style="display:inline-block;transform:scaleX(0.94)">1.5</span></div><div class="c d" style="left:341.80px;top:709.48px;width:36.10px;height:28.90px;line-height:28.90px"><span style="display:inline-block;transform:scaleX(0.94)">34</span></div><div class="c d" style="left:377.90px;top:709.48px;width:36.10px;height:28.90px;line-height:28.90px"><span style="display:inline-block;transform:scaleX(0.94)">1.3</span></div><div class="c d" style="left:414.00px;top:709.48px;width:36.10px;height:28.90px;line-height:28.90px"><span style="display:inline-block;transform:scaleX(0.94)">51</span></div><div class="c d" style="left:450.10px;top:709.48px;width:36.10px;height:28.90px;line-height:28.90px"><span style="display:inline-block;transform:scaleX(0.94)">1.1</span></div><div class="c d" style="left:486.20px;top:709.48px;width:36.10px;height:28.90px;line-height:28.90px"><span style="display:inline-block;transform:scaleX(0.94)">65.6</span></div><div class="c d" style="left:522.30px;top:709.48px;width:36.10px;height:28.90px;line-height:28.90px"><span style="display:inline-block;transform:scaleX(0.94)">0.9</span></div><div class="c d" style="left:558.40px;top:709.48px;width:36.10px;height:28.90px;line-height:28.90px"><span style="display:inline-block;transform:scaleX(0.94)">–</span></div><div class="c d" style="left:594.50px;top:709.48px;width:36.10px;height:28.90px;line-height:28.90px"><span style="display:inline-block;transform:scaleX(0.94)">–</span></div><div class="c d" style="left:630.60px;top:709.48px;width:36.10px;height:28.90px;line-height:28.90px"><span style="display:inline-block;transform:scaleX(0.94)">–</span></div><div class="c d" style="left:666.70px;top:709.48px;width:36.10px;height:28.90px;line-height:28.90px"><span style="display:inline-block;transform:scaleX(0.94)">–</span></div><div class="c d" style="left:702.80px;top:709.48px;width:36.10px;height:28.90px;line-height:28.90px"><span style="display:inline-block;transform:scaleX(0.94)">–</span></div><div class="c d" style="left:738.90px;top:709.48px;width:36.10px;height:28.90px;line-height:28.90px"><span style="display:inline-block;transform:scaleX(0.94)">–</span></div><div class="c d" style="left:775.00px;top:709.48px;width:36.10px;height:28.90px;line-height:28.90px"><span style="display:inline-block;transform:scaleX(0.94)">–</span></div><div class="c d" style="left:811.10px;top:709.48px;width:36.10px;height:28.90px;line-height:28.90px"><span style="display:inline-block;transform:scaleX(0.94)">–</span></div><div class="c d" style="left:847.20px;top:709.48px;width:36.10px;height:28.90px;line-height:28.90px"><span style="display:inline-block;transform:scaleX(0.94)">–</span></div><div class="c d" style="left:883.30px;top:709.48px;width:36.10px;height:28.90px;line-height:28.90px"><span style="display:inline-block;transform:scaleX(0.94)">–</span></div><div class="c mb" style="left:28.50px;top:738.90px;width:72.00px;height:86.70px;line-height:86.70px">63</div><div class="c d" style="left:100.50px;top:738.33px;width:96.90px;height:28.90px;line-height:28.90px"><span style="display:inline-block;transform:scaleX(0.94)">0.37</span></div><div class="c d" style="left:197.40px;top:738.33px;width:36.10px;height:28.90px;line-height:28.90px"><span style="display:inline-block;transform:scaleX(0.94)">–</span></div><div class="c d" style="left:233.50px;top:738.33px;width:36.10px;height:28.90px;line-height:28.90px"><span style="display:inline-block;transform:scaleX(0.94)">–</span></div><div class="c d" style="left:269.60px;top:738.33px;width:36.10px;height:28.90px;line-height:28.90px"><span style="display:inline-block;transform:scaleX(0.94)">13.8</span></div><div class="c d" style="left:305.70px;top:738.33px;width:36.10px;height:28.90px;line-height:28.90px"><span style="display:inline-block;transform:scaleX(0.94)">5.9</span></div><div class="c d" style="left:341.80px;top:738.33px;width:36.10px;height:28.90px;line-height:28.90px"><span style="display:inline-block;transform:scaleX(0.94)">17.4</span></div><div class="c d" style="left:377.90px;top:738.33px;width:36.10px;height:28.90px;line-height:28.90px"><span style="display:inline-block;transform:scaleX(0.94)">5.2</span></div><div class="c d" style="left:414.00px;top:738.33px;width:36.10px;height:28.90px;line-height:28.90px"><span style="display:inline-block;transform:scaleX(0.94)">26.1</span></div><div class="c d" style="left:450.10px;top:738.33px;width:36.10px;height:28.90px;line-height:28.90px"><span style="display:inline-block;transform:scaleX(0.94)">4</span></div><div class="c d" style="left:486.20px;top:738.33px;width:36.10px;height:28.90px;line-height:28.90px"><span style="display:inline-block;transform:scaleX(0.94)">33.6</span></div><div class="c d" style="left:522.30px;top:738.33px;width:36.10px;height:28.90px;line-height:28.90px"><span style="display:inline-block;transform:scaleX(0.94)">3.7</span></div><div class="c d" style="left:558.40px;top:738.33px;width:36.10px;height:28.90px;line-height:28.90px"><span style="display:inline-block;transform:scaleX(0.94)">40</span></div><div class="c d" style="left:594.50px;top:738.33px;width:36.10px;height:28.90px;line-height:28.90px"><span style="display:inline-block;transform:scaleX(0.94)">3.2</span></div><div class="c d" style="left:630.60px;top:738.33px;width:36.10px;height:28.90px;line-height:28.90px"><span style="display:inline-block;transform:scaleX(0.94)">46.7</span></div><div class="c d" style="left:666.70px;top:738.33px;width:36.10px;height:28.90px;line-height:28.90px"><span style="display:inline-block;transform:scaleX(0.94)">3.7</span></div><div class="c d" style="left:702.80px;top:738.33px;width:36.10px;height:28.90px;line-height:28.90px"><span style="display:inline-block;transform:scaleX(0.94)">66.7</span></div><div class="c d" style="left:738.90px;top:738.33px;width:36.10px;height:28.90px;line-height:28.90px"><span style="display:inline-block;transform:scaleX(0.94)">2.9</span></div><div class="c d" style="left:775.00px;top:738.33px;width:36.10px;height:28.90px;line-height:28.90px"><span style="display:inline-block;transform:scaleX(0.94)">73.8</span></div><div class="c d" style="left:811.10px;top:738.33px;width:36.10px;height:28.90px;line-height:28.90px"><span style="display:inline-block;transform:scaleX(0.94)">2.5</span></div><div class="c d" style="left:847.20px;top:738.33px;width:36.10px;height:28.90px;line-height:28.90px"><span style="display:inline-block;transform:scaleX(0.94)">86</span></div><div class="c d" style="left:883.30px;top:738.33px;width:36.10px;height:28.90px;line-height:28.90px"><span style="display:inline-block;transform:scaleX(0.94)">1.9</span></div><div class="c d" style="left:100.50px;top:767.18px;width:96.90px;height:28.90px;line-height:28.90px"><span style="display:inline-block;transform:scaleX(0.94)">0.75</span></div><div class="c d" style="left:197.40px;top:767.18px;width:36.10px;height:28.90px;line-height:28.90px"><span style="display:inline-block;transform:scaleX(0.94)">–</span></div><div class="c d" style="left:233.50px;top:767.18px;width:36.10px;height:28.90px;line-height:28.90px"><span style="display:inline-block;transform:scaleX(0.94)">–</span></div><div class="c d" style="left:269.60px;top:767.18px;width:36.10px;height:28.90px;line-height:28.90px"><span style="display:inline-block;transform:scaleX(0.94)">8</span></div><div class="c d" style="left:305.70px;top:767.18px;width:36.10px;height:28.90px;line-height:28.90px"><span style="display:inline-block;transform:scaleX(0.94)">2.9</span></div><div class="c d" style="left:341.80px;top:767.18px;width:36.10px;height:28.90px;line-height:28.90px"><span style="display:inline-block;transform:scaleX(0.94)">35</span></div><div class="c d" style="left:377.90px;top:767.18px;width:36.10px;height:28.90px;line-height:28.90px"><span style="display:inline-block;transform:scaleX(0.94)">2.6</span></div><div class="c d" style="left:414.00px;top:767.18px;width:36.10px;height:28.90px;line-height:28.90px"><span style="display:inline-block;transform:scaleX(0.94)">52.5</span></div><div class="c d" style="left:450.10px;top:767.18px;width:36.10px;height:28.90px;line-height:28.90px"><span style="display:inline-block;transform:scaleX(0.94)">2</span></div><div class="c d" style="left:486.20px;top:767.18px;width:36.10px;height:28.90px;line-height:28.90px"><span style="display:inline-block;transform:scaleX(0.94)">67</span></div><div class="c d" style="left:522.30px;top:767.18px;width:36.10px;height:28.90px;line-height:28.90px"><span style="display:inline-block;transform:scaleX(0.94)">1.8</span></div><div class="c d" style="left:558.40px;top:767.18px;width:36.10px;height:28.90px;line-height:28.90px"><span style="display:inline-block;transform:scaleX(0.94)">80</span></div><div class="c d" style="left:594.50px;top:767.18px;width:36.10px;height:28.90px;line-height:28.90px"><span style="display:inline-block;transform:scaleX(0.94)">1.6</span></div><div class="c d" style="left:630.60px;top:767.18px;width:36.10px;height:28.90px;line-height:28.90px"><span style="display:inline-block;transform:scaleX(0.94)">93</span></div><div class="c d" style="left:666.70px;top:767.18px;width:36.10px;height:28.90px;line-height:28.90px"><span style="display:inline-block;transform:scaleX(0.94)">1.8</span></div><div class="c d" style="left:702.80px;top:767.18px;width:36.10px;height:28.90px;line-height:28.90px"><span style="display:inline-block;transform:scaleX(0.94)">133</span></div><div class="c d" style="left:738.90px;top:767.18px;width:36.10px;height:28.90px;line-height:28.90px"><span style="display:inline-block;transform:scaleX(0.94)">1.5</span></div><div class="c d" style="left:775.00px;top:767.18px;width:36.10px;height:28.90px;line-height:28.90px"><span style="display:inline-block;transform:scaleX(0.94)">147</span></div><div class="c d" style="left:811.10px;top:767.18px;width:36.10px;height:28.90px;line-height:28.90px"><span style="display:inline-block;transform:scaleX(0.94)">1.2</span></div><div class="c d" style="left:847.20px;top:767.18px;width:36.10px;height:28.90px;line-height:28.90px"><span style="display:inline-block;transform:scaleX(0.94)">172</span></div><div class="c d" style="left:883.30px;top:767.18px;width:36.10px;height:28.90px;line-height:28.90px"><span style="display:inline-block;transform:scaleX(0.94)">0.9</span></div><div class="c d" style="left:100.50px;top:796.03px;width:96.90px;height:28.90px;line-height:28.90px"><span style="display:inline-block;transform:scaleX(0.94)">1.5</span></div><div class="c d" style="left:197.40px;top:796.03px;width:36.10px;height:28.90px;line-height:28.90px"><span style="display:inline-block;transform:scaleX(0.94)">–</span></div><div class="c d" style="left:233.50px;top:796.03px;width:36.10px;height:28.90px;line-height:28.90px"><span style="display:inline-block;transform:scaleX(0.94)">–</span></div><div class="c d" style="left:269.60px;top:796.03px;width:36.10px;height:28.90px;line-height:28.90px"><span style="display:inline-block;transform:scaleX(0.94)">55.3</span></div><div class="c d" style="left:305.70px;top:796.03px;width:36.10px;height:28.90px;line-height:28.90px"><span style="display:inline-block;transform:scaleX(0.94)">1.5</span></div><div class="c d" style="left:341.80px;top:796.03px;width:36.10px;height:28.90px;line-height:28.90px"><span style="display:inline-block;transform:scaleX(0.94)">71</span></div><div class="c d" style="left:377.90px;top:796.03px;width:36.10px;height:28.90px;line-height:28.90px"><span style="display:inline-block;transform:scaleX(0.94)">1.3</span></div><div class="c d" style="left:414.00px;top:796.03px;width:36.10px;height:28.90px;line-height:28.90px"><span style="display:inline-block;transform:scaleX(0.94)">106</span></div><div class="c d" style="left:450.10px;top:796.03px;width:36.10px;height:28.90px;line-height:28.90px"><span style="display:inline-block;transform:scaleX(0.94)">1</span></div><div class="c d" style="left:486.20px;top:796.03px;width:36.10px;height:28.90px;line-height:28.90px"><span style="display:inline-block;transform:scaleX(0.94)">133</span></div><div class="c d" style="left:522.30px;top:796.03px;width:36.10px;height:28.90px;line-height:28.90px"><span style="display:inline-block;transform:scaleX(0.94)">0.9</span></div><div class="c d" style="left:558.40px;top:796.03px;width:36.10px;height:28.90px;line-height:28.90px"><span style="display:inline-block;transform:scaleX(0.94)">161</span></div><div class="c d" style="left:594.50px;top:796.03px;width:36.10px;height:28.90px;line-height:28.90px"><span style="display:inline-block;transform:scaleX(0.94)">0.8</span></div><div class="c d" style="left:630.60px;top:796.03px;width:36.10px;height:28.90px;line-height:28.90px"><span style="display:inline-block;transform:scaleX(0.94)">185</span></div><div class="c d" style="left:666.70px;top:796.03px;width:36.10px;height:28.90px;line-height:28.90px"><span style="display:inline-block;transform:scaleX(0.94)">0.9</span></div><div class="c d" style="left:702.80px;top:796.03px;width:36.10px;height:28.90px;line-height:28.90px"><span style="display:inline-block;transform:scaleX(0.94)">–</span></div><div class="c d" style="left:738.90px;top:796.03px;width:36.10px;height:28.90px;line-height:28.90px"><span style="display:inline-block;transform:scaleX(0.94)">–</span></div><div class="c d" style="left:775.00px;top:796.03px;width:36.10px;height:28.90px;line-height:28.90px"><span style="display:inline-block;transform:scaleX(0.94)">–</span></div><div class="c d" style="left:811.10px;top:796.03px;width:36.10px;height:28.90px;line-height:28.90px"><span style="display:inline-block;transform:scaleX(0.94)">–</span></div><div class="c d" style="left:847.20px;top:796.03px;width:36.10px;height:28.90px;line-height:28.90px"><span style="display:inline-block;transform:scaleX(0.94)">–</span></div><div class="c d" style="left:883.30px;top:796.03px;width:36.10px;height:28.90px;line-height:28.90px"><span style="display:inline-block;transform:scaleX(0.94)">–</span></div><div class="c mb" style="left:28.50px;top:825.60px;width:72.00px;height:115.60px;line-height:115.60px">75</div><div class="c d" style="left:100.50px;top:824.89px;width:96.90px;height:28.90px;line-height:28.90px"><span style="display:inline-block;transform:scaleX(0.94)">0.37</span></div><div class="c d" style="left:197.40px;top:824.89px;width:36.10px;height:28.90px;line-height:28.90px"><span style="display:inline-block;transform:scaleX(0.94)">–</span></div><div class="c d" style="left:233.50px;top:824.89px;width:36.10px;height:28.90px;line-height:28.90px"><span style="display:inline-block;transform:scaleX(0.94)">–</span></div><div class="c d" style="left:269.60px;top:824.89px;width:36.10px;height:28.90px;line-height:28.90px"><span style="display:inline-block;transform:scaleX(0.94)">14.2</span></div><div class="c d" style="left:305.70px;top:824.89px;width:36.10px;height:28.90px;line-height:28.90px"><span style="display:inline-block;transform:scaleX(0.94)">13.7</span></div><div class="c d" style="left:341.80px;top:824.89px;width:36.10px;height:28.90px;line-height:28.90px"><span style="display:inline-block;transform:scaleX(0.94)">17.8</span></div><div class="c d" style="left:377.90px;top:824.89px;width:36.10px;height:28.90px;line-height:28.90px"><span style="display:inline-block;transform:scaleX(0.94)">9.2</span></div><div class="c d" style="left:414.00px;top:824.89px;width:36.10px;height:28.90px;line-height:28.90px"><span style="display:inline-block;transform:scaleX(0.94)">26.8</span></div><div class="c d" style="left:450.10px;top:824.89px;width:36.10px;height:28.90px;line-height:28.90px"><span style="display:inline-block;transform:scaleX(0.94)">72</span></div><div class="c d" style="left:486.20px;top:824.89px;width:36.10px;height:28.90px;line-height:28.90px"><span style="display:inline-block;transform:scaleX(0.94)">34.4</span></div><div class="c d" style="left:522.30px;top:824.89px;width:36.10px;height:28.90px;line-height:28.90px"><span style="display:inline-block;transform:scaleX(0.94)">6</span></div><div class="c d" style="left:558.40px;top:824.89px;width:36.10px;height:28.90px;line-height:28.90px"><span style="display:inline-block;transform:scaleX(0.94)">41</span></div><div class="c d" style="left:594.50px;top:824.89px;width:36.10px;height:28.90px;line-height:28.90px"><span style="display:inline-block;transform:scaleX(0.94)">5.2</span></div><div class="c d" style="left:630.60px;top:824.89px;width:36.10px;height:28.90px;line-height:28.90px"><span style="display:inline-block;transform:scaleX(0.94)">47.9</span></div><div class="c d" style="left:666.70px;top:824.89px;width:36.10px;height:28.90px;line-height:28.90px"><span style="display:inline-block;transform:scaleX(0.94)">6</span></div><div class="c d" style="left:702.80px;top:824.89px;width:36.10px;height:28.90px;line-height:28.90px"><span style="display:inline-block;transform:scaleX(0.94)">62.2</span></div><div class="c d" style="left:738.90px;top:824.89px;width:36.10px;height:28.90px;line-height:28.90px"><span style="display:inline-block;transform:scaleX(0.94)">4.8</span></div><div class="c d" style="left:775.00px;top:824.89px;width:36.10px;height:28.90px;line-height:28.90px"><span style="display:inline-block;transform:scaleX(0.94)">75.6</span></div><div class="c d" style="left:811.10px;top:824.89px;width:36.10px;height:28.90px;line-height:28.90px"><span style="display:inline-block;transform:scaleX(0.94)">4</span></div><div class="c d" style="left:847.20px;top:824.89px;width:36.10px;height:28.90px;line-height:28.90px"><span style="display:inline-block;transform:scaleX(0.94)">88.2</span></div><div class="c d" style="left:883.30px;top:824.89px;width:36.10px;height:28.90px;line-height:28.90px"><span style="display:inline-block;transform:scaleX(0.94)">3.6</span></div><div class="c d" style="left:100.50px;top:853.74px;width:96.90px;height:28.90px;line-height:28.90px"><span style="display:inline-block;transform:scaleX(0.94)">0.75</span></div><div class="c d" style="left:197.40px;top:853.74px;width:36.10px;height:28.90px;line-height:28.90px"><span style="display:inline-block;transform:scaleX(0.94)">–</span></div><div class="c d" style="left:233.50px;top:853.74px;width:36.10px;height:28.90px;line-height:28.90px"><span style="display:inline-block;transform:scaleX(0.94)">–</span></div><div class="c d" style="left:269.60px;top:853.74px;width:36.10px;height:28.90px;line-height:28.90px"><span style="display:inline-block;transform:scaleX(0.94)">31.6</span></div><div class="c d" style="left:305.70px;top:853.74px;width:36.10px;height:28.90px;line-height:28.90px"><span style="display:inline-block;transform:scaleX(0.94)">6.8</span></div><div class="c d" style="left:341.80px;top:853.74px;width:36.10px;height:28.90px;line-height:28.90px"><span style="display:inline-block;transform:scaleX(0.94)">37.8</span></div><div class="c d" style="left:377.90px;top:853.74px;width:36.10px;height:28.90px;line-height:28.90px"><span style="display:inline-block;transform:scaleX(0.94)">4.6</span></div><div class="c d" style="left:414.00px;top:853.74px;width:36.10px;height:28.90px;line-height:28.90px"><span style="display:inline-block;transform:scaleX(0.94)">53.6</span></div><div class="c d" style="left:450.10px;top:853.74px;width:36.10px;height:28.90px;line-height:28.90px"><span style="display:inline-block;transform:scaleX(0.94)">3.6</span></div><div class="c d" style="left:486.20px;top:853.74px;width:36.10px;height:28.90px;line-height:28.90px"><span style="display:inline-block;transform:scaleX(0.94)">68.9</span></div><div class="c d" style="left:522.30px;top:853.74px;width:36.10px;height:28.90px;line-height:28.90px"><span style="display:inline-block;transform:scaleX(0.94)">3</span></div><div class="c d" style="left:558.40px;top:853.74px;width:36.10px;height:28.90px;line-height:28.90px"><span style="display:inline-block;transform:scaleX(0.94)">81.9</span></div><div class="c d" style="left:594.50px;top:853.74px;width:36.10px;height:28.90px;line-height:28.90px"><span style="display:inline-block;transform:scaleX(0.94)">2.6</span></div><div class="c d" style="left:630.60px;top:853.74px;width:36.10px;height:28.90px;line-height:28.90px"><span style="display:inline-block;transform:scaleX(0.94)">95.8</span></div><div class="c d" style="left:666.70px;top:853.74px;width:36.10px;height:28.90px;line-height:28.90px"><span style="display:inline-block;transform:scaleX(0.94)">3</span></div><div class="c d" style="left:702.80px;top:853.74px;width:36.10px;height:28.90px;line-height:28.90px"><span style="display:inline-block;transform:scaleX(0.94)">124</span></div><div class="c d" style="left:738.90px;top:853.74px;width:36.10px;height:28.90px;line-height:28.90px"><span style="display:inline-block;transform:scaleX(0.94)">2.4</span></div><div class="c d" style="left:775.00px;top:853.74px;width:36.10px;height:28.90px;line-height:28.90px"><span style="display:inline-block;transform:scaleX(0.94)">151</span></div><div class="c d" style="left:811.10px;top:853.74px;width:36.10px;height:28.90px;line-height:28.90px"><span style="display:inline-block;transform:scaleX(0.94)">2</span></div><div class="c d" style="left:847.20px;top:853.74px;width:36.10px;height:28.90px;line-height:28.90px"><span style="display:inline-block;transform:scaleX(0.94)">176</span></div><div class="c d" style="left:883.30px;top:853.74px;width:36.10px;height:28.90px;line-height:28.90px"><span style="display:inline-block;transform:scaleX(0.94)">1.8</span></div><div class="c d" style="left:100.50px;top:882.59px;width:96.90px;height:28.90px;line-height:28.90px"><span style="display:inline-block;transform:scaleX(0.94)">1.5</span></div><div class="c d" style="left:197.40px;top:882.59px;width:36.10px;height:28.90px;line-height:28.90px"><span style="display:inline-block;transform:scaleX(0.94)">–</span></div><div class="c d" style="left:233.50px;top:882.59px;width:36.10px;height:28.90px;line-height:28.90px"><span style="display:inline-block;transform:scaleX(0.94)">–</span></div><div class="c d" style="left:269.60px;top:882.59px;width:36.10px;height:28.90px;line-height:28.90px"><span style="display:inline-block;transform:scaleX(0.94)">93</span></div><div class="c d" style="left:305.70px;top:882.59px;width:36.10px;height:28.90px;line-height:28.90px"><span style="display:inline-block;transform:scaleX(0.94)">3.4</span></div><div class="c d" style="left:341.80px;top:882.59px;width:36.10px;height:28.90px;line-height:28.90px"><span style="display:inline-block;transform:scaleX(0.94)">76</span></div><div class="c d" style="left:377.90px;top:882.59px;width:36.10px;height:28.90px;line-height:28.90px"><span style="display:inline-block;transform:scaleX(0.94)">2.3</span></div><div class="c d" style="left:414.00px;top:882.59px;width:36.10px;height:28.90px;line-height:28.90px"><span style="display:inline-block;transform:scaleX(0.94)">107</span></div><div class="c d" style="left:450.10px;top:882.59px;width:36.10px;height:28.90px;line-height:28.90px"><span style="display:inline-block;transform:scaleX(0.94)">1.8</span></div><div class="c d" style="left:486.20px;top:882.59px;width:36.10px;height:28.90px;line-height:28.90px"><span style="display:inline-block;transform:scaleX(0.94)">138</span></div><div class="c d" style="left:522.30px;top:882.59px;width:36.10px;height:28.90px;line-height:28.90px"><span style="display:inline-block;transform:scaleX(0.94)">1.5</span></div><div class="c d" style="left:558.40px;top:882.59px;width:36.10px;height:28.90px;line-height:28.90px"><span style="display:inline-block;transform:scaleX(0.94)">164</span></div><div class="c d" style="left:594.50px;top:882.59px;width:36.10px;height:28.90px;line-height:28.90px"><span style="display:inline-block;transform:scaleX(0.94)">1.3</span></div><div class="c d" style="left:630.60px;top:882.59px;width:36.10px;height:28.90px;line-height:28.90px"><span style="display:inline-block;transform:scaleX(0.94)">192</span></div><div class="c d" style="left:666.70px;top:882.59px;width:36.10px;height:28.90px;line-height:28.90px"><span style="display:inline-block;transform:scaleX(0.94)">1.5</span></div><div class="c d" style="left:702.80px;top:882.59px;width:36.10px;height:28.90px;line-height:28.90px"><span style="display:inline-block;transform:scaleX(0.94)">248</span></div><div class="c d" style="left:738.90px;top:882.59px;width:36.10px;height:28.90px;line-height:28.90px"><span style="display:inline-block;transform:scaleX(0.94)">1.2</span></div><div class="c d" style="left:775.00px;top:882.59px;width:36.10px;height:28.90px;line-height:28.90px"><span style="display:inline-block;transform:scaleX(0.94)">302</span></div><div class="c d" style="left:811.10px;top:882.59px;width:36.10px;height:28.90px;line-height:28.90px"><span style="display:inline-block;transform:scaleX(0.94)">1</span></div><div class="c d" style="left:847.20px;top:882.59px;width:36.10px;height:28.90px;line-height:28.90px"><span style="display:inline-block;transform:scaleX(0.94)">350</span></div><div class="c d" style="left:883.30px;top:882.59px;width:36.10px;height:28.90px;line-height:28.90px"><span style="display:inline-block;transform:scaleX(0.94)">0.9</span></div><div class="c d" style="left:100.50px;top:911.44px;width:96.90px;height:28.90px;line-height:28.90px"><span style="display:inline-block;transform:scaleX(0.94)">2.2</span></div><div class="c d" style="left:197.40px;top:911.44px;width:36.10px;height:28.90px;line-height:28.90px"><span style="display:inline-block;transform:scaleX(0.94)">–</span></div><div class="c d" style="left:233.50px;top:911.44px;width:36.10px;height:28.90px;line-height:28.90px"><span style="display:inline-block;transform:scaleX(0.94)">–</span></div><div class="c d" style="left:269.60px;top:911.44px;width:36.10px;height:28.90px;line-height:28.90px"><span style="display:inline-block;transform:scaleX(0.94)">99</span></div><div class="c d" style="left:305.70px;top:911.44px;width:36.10px;height:28.90px;line-height:28.90px"><span style="display:inline-block;transform:scaleX(0.94)">1.7</span></div><div class="c d" style="left:341.80px;top:911.44px;width:36.10px;height:28.90px;line-height:28.90px"><span style="display:inline-block;transform:scaleX(0.94)">131</span></div><div class="c d" style="left:377.90px;top:911.44px;width:36.10px;height:28.90px;line-height:28.90px"><span style="display:inline-block;transform:scaleX(0.94)">1.1</span></div><div class="c d" style="left:414.00px;top:911.44px;width:36.10px;height:28.90px;line-height:28.90px"><span style="display:inline-block;transform:scaleX(0.94)">189</span></div><div class="c d" style="left:450.10px;top:911.44px;width:36.10px;height:28.90px;line-height:28.90px"><span style="display:inline-block;transform:scaleX(0.94)">0.9</span></div><div class="c d" style="left:486.20px;top:911.44px;width:36.10px;height:28.90px;line-height:28.90px"><span style="display:inline-block;transform:scaleX(0.94)">–</span></div><div class="c d" style="left:522.30px;top:911.44px;width:36.10px;height:28.90px;line-height:28.90px"><span style="display:inline-block;transform:scaleX(0.94)">–</span></div><div class="c d" style="left:558.40px;top:911.44px;width:36.10px;height:28.90px;line-height:28.90px"><span style="display:inline-block;transform:scaleX(0.94)">–</span></div><div class="c d" style="left:594.50px;top:911.44px;width:36.10px;height:28.90px;line-height:28.90px"><span style="display:inline-block;transform:scaleX(0.94)">–</span></div><div class="c d" style="left:630.60px;top:911.44px;width:36.10px;height:28.90px;line-height:28.90px"><span style="display:inline-block;transform:scaleX(0.94)">–</span></div><div class="c d" style="left:666.70px;top:911.44px;width:36.10px;height:28.90px;line-height:28.90px"><span style="display:inline-block;transform:scaleX(0.94)">–</span></div><div class="c d" style="left:702.80px;top:911.44px;width:36.10px;height:28.90px;line-height:28.90px"><span style="display:inline-block;transform:scaleX(0.94)">–</span></div><div class="c d" style="left:738.90px;top:911.44px;width:36.10px;height:28.90px;line-height:28.90px"><span style="display:inline-block;transform:scaleX(0.94)">–</span></div><div class="c d" style="left:775.00px;top:911.44px;width:36.10px;height:28.90px;line-height:28.90px"><span style="display:inline-block;transform:scaleX(0.94)">–</span></div><div class="c d" style="left:811.10px;top:911.44px;width:36.10px;height:28.90px;line-height:28.90px"><span style="display:inline-block;transform:scaleX(0.94)">–</span></div><div class="c d" style="left:847.20px;top:911.44px;width:36.10px;height:28.90px;line-height:28.90px"><span style="display:inline-block;transform:scaleX(0.94)">–</span></div><div class="c d" style="left:883.30px;top:911.44px;width:36.10px;height:28.90px;line-height:28.90px"><span style="display:inline-block;transform:scaleX(0.94)">–</span></div><div class="c mb" style="left:28.50px;top:941.20px;width:72.00px;height:86.70px;line-height:86.70px">90</div><div class="c d" style="left:100.50px;top:940.30px;width:96.90px;height:28.90px;line-height:28.90px"><span style="display:inline-block;transform:scaleX(0.94)">0.75</span></div><div class="c d" style="left:197.40px;top:940.30px;width:36.10px;height:28.90px;line-height:28.90px"><span style="display:inline-block;transform:scaleX(0.94)">–</span></div><div class="c d" style="left:233.50px;top:940.30px;width:36.10px;height:28.90px;line-height:28.90px"><span style="display:inline-block;transform:scaleX(0.94)">–</span></div><div class="c d" style="left:269.60px;top:940.30px;width:36.10px;height:28.90px;line-height:28.90px"><span style="display:inline-block;transform:scaleX(0.94)">27</span></div><div class="c d" style="left:305.70px;top:940.30px;width:36.10px;height:28.90px;line-height:28.90px"><span style="display:inline-block;transform:scaleX(0.94)">7.2</span></div><div class="c d" style="left:341.80px;top:940.30px;width:36.10px;height:28.90px;line-height:28.90px"><span style="display:inline-block;transform:scaleX(0.94)">34</span></div><div class="c d" style="left:377.90px;top:940.30px;width:36.10px;height:28.90px;line-height:28.90px"><span style="display:inline-block;transform:scaleX(0.94)">6.8</span></div><div class="c d" style="left:414.00px;top:940.30px;width:36.10px;height:28.90px;line-height:28.90px"><span style="display:inline-block;transform:scaleX(0.94)">51</span></div><div class="c d" style="left:450.10px;top:940.30px;width:36.10px;height:28.90px;line-height:28.90px"><span style="display:inline-block;transform:scaleX(0.94)">6</span></div><div class="c d" style="left:486.20px;top:940.30px;width:36.10px;height:28.90px;line-height:28.90px"><span style="display:inline-block;transform:scaleX(0.94)">56.6</span></div><div class="c d" style="left:522.30px;top:940.30px;width:36.10px;height:28.90px;line-height:28.90px"><span style="display:inline-block;transform:scaleX(0.94)">4.1</span></div><div class="c d" style="left:558.40px;top:940.30px;width:36.10px;height:28.90px;line-height:28.90px"><span style="display:inline-block;transform:scaleX(0.94)">78</span></div><div class="c d" style="left:594.50px;top:940.30px;width:36.10px;height:28.90px;line-height:28.90px"><span style="display:inline-block;transform:scaleX(0.94)">3.3</span></div><div class="c d" style="left:630.60px;top:940.30px;width:36.10px;height:28.90px;line-height:28.90px"><span style="display:inline-block;transform:scaleX(0.94)">91.2</span></div><div class="c d" style="left:666.70px;top:940.30px;width:36.10px;height:28.90px;line-height:28.90px"><span style="display:inline-block;transform:scaleX(0.94)">5.2</span></div><div class="c d" style="left:702.80px;top:940.30px;width:36.10px;height:28.90px;line-height:28.90px"><span style="display:inline-block;transform:scaleX(0.94)">118</span></div><div class="c d" style="left:738.90px;top:940.30px;width:36.10px;height:28.90px;line-height:28.90px"><span style="display:inline-block;transform:scaleX(0.94)">2.8</span></div><div class="c d" style="left:775.00px;top:940.30px;width:36.10px;height:28.90px;line-height:28.90px"><span style="display:inline-block;transform:scaleX(0.94)">182</span></div><div class="c d" style="left:811.10px;top:940.30px;width:36.10px;height:28.90px;line-height:28.90px"><span style="display:inline-block;transform:scaleX(0.94)">1.8</span></div><div class="c d" style="left:847.20px;top:940.30px;width:36.10px;height:28.90px;line-height:28.90px"><span style="display:inline-block;transform:scaleX(0.94)">209</span></div><div class="c d" style="left:883.30px;top:940.30px;width:36.10px;height:28.90px;line-height:28.90px"><span style="display:inline-block;transform:scaleX(0.94)">1.5</span></div><div class="c d" style="left:100.50px;top:969.15px;width:96.90px;height:28.90px;line-height:28.90px"><span style="display:inline-block;transform:scaleX(0.94)">1.5</span></div><div class="c d" style="left:197.40px;top:969.15px;width:36.10px;height:28.90px;line-height:28.90px"><span style="display:inline-block;transform:scaleX(0.94)">–</span></div><div class="c d" style="left:233.50px;top:969.15px;width:36.10px;height:28.90px;line-height:28.90px"><span style="display:inline-block;transform:scaleX(0.94)">–</span></div><div class="c d" style="left:269.60px;top:969.15px;width:36.10px;height:28.90px;line-height:28.90px"><span style="display:inline-block;transform:scaleX(0.94)">57</span></div><div class="c d" style="left:305.70px;top:969.15px;width:36.10px;height:28.90px;line-height:28.90px"><span style="display:inline-block;transform:scaleX(0.94)">3.6</span></div><div class="c d" style="left:341.80px;top:969.15px;width:36.10px;height:28.90px;line-height:28.90px"><span style="display:inline-block;transform:scaleX(0.94)">76</span></div><div class="c d" style="left:377.90px;top:969.15px;width:36.10px;height:28.90px;line-height:28.90px"><span style="display:inline-block;transform:scaleX(0.94)">3.4</span></div><div class="c d" style="left:414.00px;top:969.15px;width:36.10px;height:28.90px;line-height:28.90px"><span style="display:inline-block;transform:scaleX(0.94)">107</span></div><div class="c d" style="left:450.10px;top:969.15px;width:36.10px;height:28.90px;line-height:28.90px"><span style="display:inline-block;transform:scaleX(0.94)">3</span></div><div class="c d" style="left:486.20px;top:969.15px;width:36.10px;height:28.90px;line-height:28.90px"><span style="display:inline-block;transform:scaleX(0.94)">138</span></div><div class="c d" style="left:522.30px;top:969.15px;width:36.10px;height:28.90px;line-height:28.90px"><span style="display:inline-block;transform:scaleX(0.94)">2.1</span></div><div class="c d" style="left:558.40px;top:969.15px;width:36.10px;height:28.90px;line-height:28.90px"><span style="display:inline-block;transform:scaleX(0.94)">164</span></div><div class="c d" style="left:594.50px;top:969.15px;width:36.10px;height:28.90px;line-height:28.90px"><span style="display:inline-block;transform:scaleX(0.94)">1.6</span></div><div class="c d" style="left:630.60px;top:969.15px;width:36.10px;height:28.90px;line-height:28.90px"><span style="display:inline-block;transform:scaleX(0.94)">192</span></div><div class="c d" style="left:666.70px;top:969.15px;width:36.10px;height:28.90px;line-height:28.90px"><span style="display:inline-block;transform:scaleX(0.94)">1.7</span></div><div class="c d" style="left:702.80px;top:969.15px;width:36.10px;height:28.90px;line-height:28.90px"><span style="display:inline-block;transform:scaleX(0.94)">249</span></div><div class="c d" style="left:738.90px;top:969.15px;width:36.10px;height:28.90px;line-height:28.90px"><span style="display:inline-block;transform:scaleX(0.94)">1.2</span></div><div class="c d" style="left:775.00px;top:969.15px;width:36.10px;height:28.90px;line-height:28.90px"><span style="display:inline-block;transform:scaleX(0.94)">303</span></div><div class="c d" style="left:811.10px;top:969.15px;width:36.10px;height:28.90px;line-height:28.90px"><span style="display:inline-block;transform:scaleX(0.94)">0.9</span></div><div class="c d" style="left:847.20px;top:969.15px;width:36.10px;height:28.90px;line-height:28.90px"><span style="display:inline-block;transform:scaleX(0.94)">353</span></div><div class="c d" style="left:883.30px;top:969.15px;width:36.10px;height:28.90px;line-height:28.90px"><span style="display:inline-block;transform:scaleX(0.94)">0.8</span></div><div class="c d" style="left:100.50px;top:998.00px;width:96.90px;height:28.90px;line-height:28.90px"><span style="display:inline-block;transform:scaleX(0.94)">2.2</span></div><div class="c d" style="left:197.40px;top:998.00px;width:36.10px;height:28.90px;line-height:28.90px"><span style="display:inline-block;transform:scaleX(0.94)">–</span></div><div class="c d" style="left:233.50px;top:998.00px;width:36.10px;height:28.90px;line-height:28.90px"><span style="display:inline-block;transform:scaleX(0.94)">–</span></div><div class="c d" style="left:269.60px;top:998.00px;width:36.10px;height:28.90px;line-height:28.90px"><span style="display:inline-block;transform:scaleX(0.94)">100</span></div><div class="c d" style="left:305.70px;top:998.00px;width:36.10px;height:28.90px;line-height:28.90px"><span style="display:inline-block;transform:scaleX(0.94)">2.9</span></div><div class="c d" style="left:341.80px;top:998.00px;width:36.10px;height:28.90px;line-height:28.90px"><span style="display:inline-block;transform:scaleX(0.94)">132</span></div><div class="c d" style="left:377.90px;top:998.00px;width:36.10px;height:28.90px;line-height:28.90px"><span style="display:inline-block;transform:scaleX(0.94)">2.3</span></div><div class="c d" style="left:414.00px;top:998.00px;width:36.10px;height:28.90px;line-height:28.90px"><span style="display:inline-block;transform:scaleX(0.94)">191</span></div><div class="c d" style="left:450.10px;top:998.00px;width:36.10px;height:28.90px;line-height:28.90px"><span style="display:inline-block;transform:scaleX(0.94)">1.9</span></div><div class="c d" style="left:486.20px;top:998.00px;width:36.10px;height:28.90px;line-height:28.90px"><span style="display:inline-block;transform:scaleX(0.94)">249</span></div><div class="c d" style="left:522.30px;top:998.00px;width:36.10px;height:28.90px;line-height:28.90px"><span style="display:inline-block;transform:scaleX(0.94)">1.4</span></div><div class="c d" style="left:558.40px;top:998.00px;width:36.10px;height:28.90px;line-height:28.90px"><span style="display:inline-block;transform:scaleX(0.94)">304</span></div><div class="c d" style="left:594.50px;top:998.00px;width:36.10px;height:28.90px;line-height:28.90px"><span style="display:inline-block;transform:scaleX(0.94)">1.1</span></div><div class="c d" style="left:630.60px;top:998.00px;width:36.10px;height:28.90px;line-height:28.90px"><span style="display:inline-block;transform:scaleX(0.94)">351</span></div><div class="c d" style="left:666.70px;top:998.00px;width:36.10px;height:28.90px;line-height:28.90px"><span style="display:inline-block;transform:scaleX(0.94)">1.3</span></div><div class="c d" style="left:702.80px;top:998.00px;width:36.10px;height:28.90px;line-height:28.90px"><span style="display:inline-block;transform:scaleX(0.94)">–</span></div><div class="c d" style="left:738.90px;top:998.00px;width:36.10px;height:28.90px;line-height:28.90px"><span style="display:inline-block;transform:scaleX(0.94)">–</span></div><div class="c d" style="left:775.00px;top:998.00px;width:36.10px;height:28.90px;line-height:28.90px"><span style="display:inline-block;transform:scaleX(0.94)">–</span></div><div class="c d" style="left:811.10px;top:998.00px;width:36.10px;height:28.90px;line-height:28.90px"><span style="display:inline-block;transform:scaleX(0.94)">–</span></div><div class="c d" style="left:847.20px;top:998.00px;width:36.10px;height:28.90px;line-height:28.90px"><span style="display:inline-block;transform:scaleX(0.94)">–</span></div><div class="c d" style="left:883.30px;top:998.00px;width:36.10px;height:28.90px;line-height:28.90px"><span style="display:inline-block;transform:scaleX(0.94)">–</span></div>
</body></html>
